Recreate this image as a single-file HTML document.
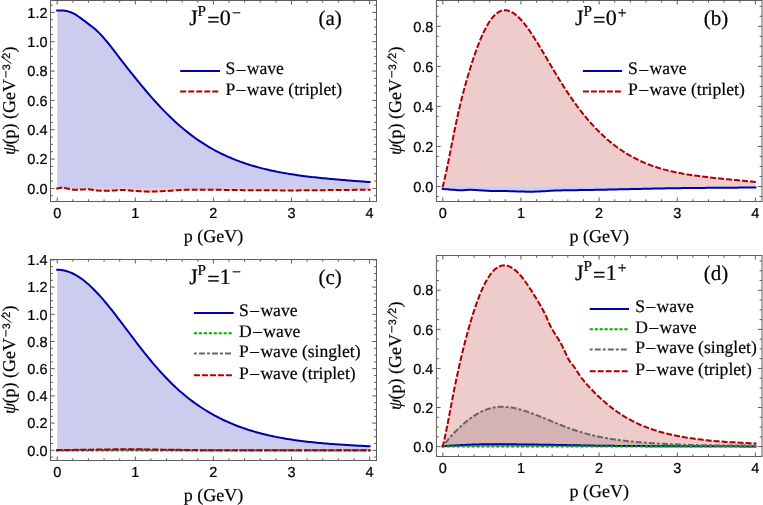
<!DOCTYPE html>
<html><head><meta charset="utf-8"><title>Wave functions</title>
<style>
html,body{margin:0;padding:0;background:#fff;}
svg{display:block;will-change:transform;}
text{fill:#000;text-rendering:geometricPrecision;}
.tk text{font-family:"Liberation Sans",sans-serif;font-size:14.5px;stroke:#000;stroke-width:0.22px;}
.ax{font-family:"Liberation Serif",serif;font-size:18px;stroke:#000;stroke-width:0.2px;}
.sup{font-family:"Liberation Sans",sans-serif;font-size:10.8px;stroke:#000;stroke-width:0.2px;}
.lg{font-family:"Liberation Serif",serif;font-size:17.6px;stroke:#000;stroke-width:0.2px;}
.ti{font-family:"Liberation Serif",serif;font-size:22px;stroke:#000;stroke-width:0.2px;}
</style></head>
<body>
<svg width="763" height="505" viewBox="0 0 763 505">
<rect x="0" y="0" width="763" height="505" fill="#ffffff"/>
<!-- panel a -->
<g>
<path d="M57.20,10.50 L57.84,10.49 L58.74,10.48 L59.80,10.46 L60.91,10.46 L61.98,10.47 L62.90,10.50 L63.81,10.57 L64.63,10.67 L65.39,10.79 L66.13,10.93 L66.90,11.10 L67.88,11.34 L68.85,11.63 L69.82,11.94 L70.80,12.30 L71.59,12.61 L72.40,12.94 L73.20,13.29 L74.00,13.68 L74.80,14.10 L75.79,14.69 L76.78,15.33 L77.76,16.01 L78.75,16.70 L79.74,17.40 L80.72,18.12 L81.71,18.86 L82.70,19.60 L83.50,20.19 L84.30,20.79 L85.10,21.40 L85.91,22.00 L86.70,22.60 L87.68,23.35 L88.65,24.09 L89.62,24.84 L90.60,25.60 L91.40,26.21 L92.20,26.83 L93.00,27.45 L93.80,28.09 L94.60,28.75 L95.58,29.60 L96.55,30.49 L97.52,31.41 L98.50,32.36 L99.30,33.15 L100.12,33.98 L100.93,34.82 L101.73,35.67 L102.50,36.51 L103.41,37.53 L104.27,38.54 L105.13,39.54 L106.00,40.56 L106.98,41.73 L108.02,43.00 L108.95,44.16 L109.60,44.98 L111.87,47.84 L113.82,50.36 L115.78,52.91 L117.73,55.48 L119.68,58.05 L121.63,60.61 L123.59,63.14 L125.54,65.65 L127.49,68.14 L129.44,70.60 L131.39,73.05 L133.35,75.49 L135.30,77.91 L137.25,80.32 L139.20,82.71 L141.16,85.08 L143.11,87.43 L145.06,89.76 L147.01,92.06 L148.97,94.33 L150.92,96.58 L152.87,98.79 L154.82,100.97 L156.78,103.13 L158.73,105.25 L160.68,107.33 L162.63,109.38 L164.59,111.40 L166.54,113.38 L168.49,115.32 L170.44,117.23 L172.40,119.09 L174.35,120.92 L176.30,122.71 L178.25,124.46 L180.21,126.17 L182.16,127.84 L184.11,129.48 L186.06,131.07 L188.02,132.62 L189.97,134.14 L191.92,135.62 L193.88,137.06 L195.83,138.46 L197.78,139.83 L199.73,141.16 L201.69,142.45 L203.64,143.71 L205.59,144.94 L207.54,146.13 L209.50,147.28 L211.45,148.41 L213.40,149.50 L215.35,150.56 L217.31,151.59 L219.26,152.59 L221.21,153.56 L223.16,154.51 L225.12,155.42 L227.07,156.31 L229.02,157.17 L230.97,158.01 L232.93,158.82 L234.88,159.60 L236.83,160.36 L238.78,161.10 L240.74,161.82 L242.69,162.52 L244.64,163.19 L246.59,163.84 L248.55,164.47 L250.50,165.09 L252.45,165.68 L254.40,166.25 L256.36,166.81 L258.31,167.35 L260.26,167.87 L262.21,168.38 L264.17,168.86 L266.12,169.34 L268.07,169.80 L270.02,170.24 L271.97,170.67 L273.93,171.08 L275.88,171.48 L277.83,171.87 L279.78,172.25 L281.74,172.61 L283.69,172.96 L285.64,173.30 L287.60,173.63 L289.55,173.95 L291.50,174.26 L293.45,174.56 L295.41,174.86 L297.36,175.14 L299.31,175.41 L301.26,175.68 L303.22,175.94 L305.17,176.19 L307.12,176.43 L309.07,176.67 L311.02,176.90 L312.98,177.13 L314.93,177.35 L316.88,177.56 L318.83,177.77 L320.79,177.97 L322.74,178.17 L324.69,178.36 L326.64,178.55 L328.60,178.74 L330.55,178.92 L332.50,179.10 L334.45,179.27 L336.41,179.44 L338.36,179.61 L340.31,179.78 L342.26,179.94 L344.22,180.10 L346.17,180.26 L348.12,180.42 L350.07,180.57 L352.03,180.73 L353.98,180.88 L355.93,181.03 L357.88,181.18 L359.84,181.33 L361.79,181.47 L363.74,181.62 L365.69,181.77 L367.65,181.91 L369.60,182.06 L369.60,188.40 L57.20,188.40 Z" fill="#0000ab" fill-opacity="0.2" stroke="none"/>
<path d="M57.20,188.45 L58.64,188.16 L60.67,187.79 L62.60,187.60 L64.08,187.76 L65.44,188.11 L67.00,188.50 L68.35,188.81 L69.80,189.17 L71.37,189.49 L73.10,189.70 L74.65,189.75 L76.35,189.72 L78.11,189.65 L79.85,189.56 L81.50,189.50 L83.43,189.42 L85.29,189.33 L87.08,189.27 L88.80,189.30 L90.40,189.45 L91.89,189.70 L93.39,189.97 L95.00,190.20 L96.69,190.39 L98.43,190.57 L100.30,190.72 L102.40,190.80 L103.98,190.81 L105.71,190.78 L107.53,190.72 L109.37,190.66 L111.18,190.58 L112.90,190.50 L114.82,190.38 L116.63,190.21 L118.43,190.05 L120.30,189.93 L122.30,189.90 L124.09,189.96 L125.97,190.09 L127.90,190.26 L129.88,190.45 L131.88,190.64 L133.90,190.80 L135.67,190.93 L137.49,191.07 L139.35,191.20 L141.20,191.33 L143.03,191.45 L144.81,191.54 L146.50,191.60 L148.34,191.63 L150.05,191.62 L151.70,191.59 L153.35,191.53 L155.06,191.47 L156.90,191.40 L158.57,191.34 L160.28,191.27 L162.04,191.19 L163.84,191.10 L165.68,191.00 L167.57,190.90 L169.50,190.80 L171.17,190.70 L172.78,190.58 L174.40,190.45 L176.06,190.33 L177.83,190.20 L179.74,190.08 L181.85,189.98 L184.20,189.90 L185.78,189.86 L187.44,189.82 L189.19,189.79 L191.00,189.77 L192.88,189.74 L194.82,189.73 L196.81,189.71 L198.84,189.70 L200.90,189.69 L203.00,189.69 L205.12,189.69 L207.26,189.69 L209.40,189.70 L211.13,189.71 L212.83,189.72 L214.53,189.74 L216.22,189.76 L217.91,189.78 L219.63,189.81 L221.37,189.84 L223.15,189.87 L224.98,189.90 L226.87,189.93 L228.82,189.96 L230.86,189.99 L232.98,190.02 L235.21,190.05 L237.54,190.08 L240.00,190.10 L241.59,190.11 L243.24,190.13 L244.95,190.14 L246.72,190.16 L248.55,190.17 L250.42,190.19 L252.33,190.20 L254.28,190.22 L256.26,190.23 L258.27,190.25 L260.30,190.26 L262.35,190.28 L264.41,190.29 L266.48,190.31 L268.55,190.32 L270.61,190.33 L272.67,190.34 L274.72,190.36 L276.74,190.37 L278.75,190.37 L280.72,190.38 L282.66,190.39 L284.57,190.39 L286.43,190.40 L288.24,190.40 L290.00,190.40 L292.12,190.40 L294.20,190.40 L296.24,190.39 L298.25,190.38 L300.22,190.37 L302.17,190.36 L304.09,190.35 L305.98,190.33 L307.86,190.32 L309.72,190.30 L311.57,190.29 L313.40,190.27 L315.23,190.25 L317.06,190.23 L318.88,190.21 L320.71,190.19 L322.55,190.17 L324.39,190.15 L326.24,190.13 L328.11,190.12 L330.00,190.10 L332.04,190.08 L334.16,190.06 L336.35,190.04 L338.59,190.02 L340.88,190.00 L343.18,189.97 L345.50,189.95 L347.81,189.93 L350.10,189.90 L352.35,189.88 L354.55,189.86 L356.69,189.84 L358.75,189.81 L360.72,189.79 L362.57,189.77 L364.31,189.76 L365.90,189.74 L367.34,189.72 L368.61,189.71 L369.70,189.70 L369.70,188.40 L57.20,188.40 Z" fill="#ab0000" fill-opacity="0.2" stroke="none"/>
<path d="M56.20,10.50 L57.20,10.50 L57.84,10.49 L58.74,10.48 L59.80,10.46 L60.91,10.46 L61.98,10.47 L62.90,10.50 L63.81,10.57 L64.63,10.67 L65.39,10.79 L66.13,10.93 L66.90,11.10 L67.88,11.34 L68.85,11.63 L69.82,11.94 L70.80,12.30 L71.59,12.61 L72.40,12.94 L73.20,13.29 L74.00,13.68 L74.80,14.10 L75.79,14.69 L76.78,15.33 L77.76,16.01 L78.75,16.70 L79.74,17.40 L80.72,18.12 L81.71,18.86 L82.70,19.60 L83.50,20.19 L84.30,20.79 L85.10,21.40 L85.91,22.00 L86.70,22.60 L87.68,23.35 L88.65,24.09 L89.62,24.84 L90.60,25.60 L91.40,26.21 L92.20,26.83 L93.00,27.45 L93.80,28.09 L94.60,28.75 L95.58,29.60 L96.55,30.49 L97.52,31.41 L98.50,32.36 L99.30,33.15 L100.12,33.98 L100.93,34.82 L101.73,35.67 L102.50,36.51 L103.41,37.53 L104.27,38.54 L105.13,39.54 L106.00,40.56 L106.98,41.73 L108.02,43.00 L108.95,44.16 L109.60,44.98 L111.87,47.84 L113.82,50.36 L115.78,52.91 L117.73,55.48 L119.68,58.05 L121.63,60.61 L123.59,63.14 L125.54,65.65 L127.49,68.14 L129.44,70.60 L131.39,73.05 L133.35,75.49 L135.30,77.91 L137.25,80.32 L139.20,82.71 L141.16,85.08 L143.11,87.43 L145.06,89.76 L147.01,92.06 L148.97,94.33 L150.92,96.58 L152.87,98.79 L154.82,100.97 L156.78,103.13 L158.73,105.25 L160.68,107.33 L162.63,109.38 L164.59,111.40 L166.54,113.38 L168.49,115.32 L170.44,117.23 L172.40,119.09 L174.35,120.92 L176.30,122.71 L178.25,124.46 L180.21,126.17 L182.16,127.84 L184.11,129.48 L186.06,131.07 L188.02,132.62 L189.97,134.14 L191.92,135.62 L193.88,137.06 L195.83,138.46 L197.78,139.83 L199.73,141.16 L201.69,142.45 L203.64,143.71 L205.59,144.94 L207.54,146.13 L209.50,147.28 L211.45,148.41 L213.40,149.50 L215.35,150.56 L217.31,151.59 L219.26,152.59 L221.21,153.56 L223.16,154.51 L225.12,155.42 L227.07,156.31 L229.02,157.17 L230.97,158.01 L232.93,158.82 L234.88,159.60 L236.83,160.36 L238.78,161.10 L240.74,161.82 L242.69,162.52 L244.64,163.19 L246.59,163.84 L248.55,164.47 L250.50,165.09 L252.45,165.68 L254.40,166.25 L256.36,166.81 L258.31,167.35 L260.26,167.87 L262.21,168.38 L264.17,168.86 L266.12,169.34 L268.07,169.80 L270.02,170.24 L271.97,170.67 L273.93,171.08 L275.88,171.48 L277.83,171.87 L279.78,172.25 L281.74,172.61 L283.69,172.96 L285.64,173.30 L287.60,173.63 L289.55,173.95 L291.50,174.26 L293.45,174.56 L295.41,174.86 L297.36,175.14 L299.31,175.41 L301.26,175.68 L303.22,175.94 L305.17,176.19 L307.12,176.43 L309.07,176.67 L311.02,176.90 L312.98,177.13 L314.93,177.35 L316.88,177.56 L318.83,177.77 L320.79,177.97 L322.74,178.17 L324.69,178.36 L326.64,178.55 L328.60,178.74 L330.55,178.92 L332.50,179.10 L334.45,179.27 L336.41,179.44 L338.36,179.61 L340.31,179.78 L342.26,179.94 L344.22,180.10 L346.17,180.26 L348.12,180.42 L350.07,180.57 L352.03,180.73 L353.98,180.88 L355.93,181.03 L357.88,181.18 L359.84,181.33 L361.79,181.47 L363.74,181.62 L365.69,181.77 L367.65,181.91 L369.60,182.06 L370.60,182.06" fill="none" stroke="#0000ab" stroke-width="2" stroke-linejoin="round"/>
<path d="M56.20,188.45 L57.20,188.45 L58.64,188.16 L60.67,187.79 L62.60,187.60 L64.08,187.76 L65.44,188.11 L67.00,188.50 L68.35,188.81 L69.80,189.17 L71.37,189.49 L73.10,189.70 L74.65,189.75 L76.35,189.72 L78.11,189.65 L79.85,189.56 L81.50,189.50 L83.43,189.42 L85.29,189.33 L87.08,189.27 L88.80,189.30 L90.40,189.45 L91.89,189.70 L93.39,189.97 L95.00,190.20 L96.69,190.39 L98.43,190.57 L100.30,190.72 L102.40,190.80 L103.98,190.81 L105.71,190.78 L107.53,190.72 L109.37,190.66 L111.18,190.58 L112.90,190.50 L114.82,190.38 L116.63,190.21 L118.43,190.05 L120.30,189.93 L122.30,189.90 L124.09,189.96 L125.97,190.09 L127.90,190.26 L129.88,190.45 L131.88,190.64 L133.90,190.80 L135.67,190.93 L137.49,191.07 L139.35,191.20 L141.20,191.33 L143.03,191.45 L144.81,191.54 L146.50,191.60 L148.34,191.63 L150.05,191.62 L151.70,191.59 L153.35,191.53 L155.06,191.47 L156.90,191.40 L158.57,191.34 L160.28,191.27 L162.04,191.19 L163.84,191.10 L165.68,191.00 L167.57,190.90 L169.50,190.80 L171.17,190.70 L172.78,190.58 L174.40,190.45 L176.06,190.33 L177.83,190.20 L179.74,190.08 L181.85,189.98 L184.20,189.90 L185.78,189.86 L187.44,189.82 L189.19,189.79 L191.00,189.77 L192.88,189.74 L194.82,189.73 L196.81,189.71 L198.84,189.70 L200.90,189.69 L203.00,189.69 L205.12,189.69 L207.26,189.69 L209.40,189.70 L211.13,189.71 L212.83,189.72 L214.53,189.74 L216.22,189.76 L217.91,189.78 L219.63,189.81 L221.37,189.84 L223.15,189.87 L224.98,189.90 L226.87,189.93 L228.82,189.96 L230.86,189.99 L232.98,190.02 L235.21,190.05 L237.54,190.08 L240.00,190.10 L241.59,190.11 L243.24,190.13 L244.95,190.14 L246.72,190.16 L248.55,190.17 L250.42,190.19 L252.33,190.20 L254.28,190.22 L256.26,190.23 L258.27,190.25 L260.30,190.26 L262.35,190.28 L264.41,190.29 L266.48,190.31 L268.55,190.32 L270.61,190.33 L272.67,190.34 L274.72,190.36 L276.74,190.37 L278.75,190.37 L280.72,190.38 L282.66,190.39 L284.57,190.39 L286.43,190.40 L288.24,190.40 L290.00,190.40 L292.12,190.40 L294.20,190.40 L296.24,190.39 L298.25,190.38 L300.22,190.37 L302.17,190.36 L304.09,190.35 L305.98,190.33 L307.86,190.32 L309.72,190.30 L311.57,190.29 L313.40,190.27 L315.23,190.25 L317.06,190.23 L318.88,190.21 L320.71,190.19 L322.55,190.17 L324.39,190.15 L326.24,190.13 L328.11,190.12 L330.00,190.10 L332.04,190.08 L334.16,190.06 L336.35,190.04 L338.59,190.02 L340.88,190.00 L343.18,189.97 L345.50,189.95 L347.81,189.93 L350.10,189.90 L352.35,189.88 L354.55,189.86 L356.69,189.84 L358.75,189.81 L360.72,189.79 L362.57,189.77 L364.31,189.76 L365.90,189.74 L367.34,189.72 L368.61,189.71 L369.70,189.70 L370.70,189.70" fill="none" stroke="#ab0000" stroke-width="2" stroke-dasharray="6 2" stroke-linejoin="round"/>
<rect x="50.5" y="0.5" width="326" height="201" fill="none" stroke="#5c5c5c" stroke-width="1"/>
<path d="M57.20,201.5 v-4.0 M57.20,0.5 v4.0 M72.82,201.5 v-2.2 M72.82,0.5 v2.2 M88.44,201.5 v-2.2 M88.44,0.5 v2.2 M104.06,201.5 v-2.2 M104.06,0.5 v2.2 M119.68,201.5 v-2.2 M119.68,0.5 v2.2 M135.30,201.5 v-4.0 M135.30,0.5 v4.0 M150.92,201.5 v-2.2 M150.92,0.5 v2.2 M166.54,201.5 v-2.2 M166.54,0.5 v2.2 M182.16,201.5 v-2.2 M182.16,0.5 v2.2 M197.78,201.5 v-2.2 M197.78,0.5 v2.2 M213.40,201.5 v-4.0 M213.40,0.5 v4.0 M229.02,201.5 v-2.2 M229.02,0.5 v2.2 M244.64,201.5 v-2.2 M244.64,0.5 v2.2 M260.26,201.5 v-2.2 M260.26,0.5 v2.2 M275.88,201.5 v-2.2 M275.88,0.5 v2.2 M291.50,201.5 v-4.0 M291.50,0.5 v4.0 M307.12,201.5 v-2.2 M307.12,0.5 v2.2 M322.74,201.5 v-2.2 M322.74,0.5 v2.2 M338.36,201.5 v-2.2 M338.36,0.5 v2.2 M353.98,201.5 v-2.2 M353.98,0.5 v2.2 M369.60,201.5 v-4.0 M369.60,0.5 v4.0 M50.5,195.73 h2.4 M376.5,195.73 h-2.4 M50.5,188.40 h4.2 M376.5,188.40 h-4.2 M50.5,181.07 h2.4 M376.5,181.07 h-2.4 M50.5,173.73 h2.4 M376.5,173.73 h-2.4 M50.5,166.40 h2.4 M376.5,166.40 h-2.4 M50.5,159.07 h4.2 M376.5,159.07 h-4.2 M50.5,151.73 h2.4 M376.5,151.73 h-2.4 M50.5,144.40 h2.4 M376.5,144.40 h-2.4 M50.5,137.07 h2.4 M376.5,137.07 h-2.4 M50.5,129.73 h4.2 M376.5,129.73 h-4.2 M50.5,122.40 h2.4 M376.5,122.40 h-2.4 M50.5,115.07 h2.4 M376.5,115.07 h-2.4 M50.5,107.73 h2.4 M376.5,107.73 h-2.4 M50.5,100.40 h4.2 M376.5,100.40 h-4.2 M50.5,93.06 h2.4 M376.5,93.06 h-2.4 M50.5,85.73 h2.4 M376.5,85.73 h-2.4 M50.5,78.40 h2.4 M376.5,78.40 h-2.4 M50.5,71.06 h4.2 M376.5,71.06 h-4.2 M50.5,63.73 h2.4 M376.5,63.73 h-2.4 M50.5,56.40 h2.4 M376.5,56.40 h-2.4 M50.5,49.06 h2.4 M376.5,49.06 h-2.4 M50.5,41.73 h4.2 M376.5,41.73 h-4.2 M50.5,34.40 h2.4 M376.5,34.40 h-2.4 M50.5,27.06 h2.4 M376.5,27.06 h-2.4 M50.5,19.73 h2.4 M376.5,19.73 h-2.4 M50.5,12.40 h4.2 M376.5,12.40 h-4.2 M50.5,5.06 h2.4 M376.5,5.06 h-2.4" stroke="#5c5c5c" stroke-width="1" fill="none"/>
<g class="tk">
<text x="57.20" y="218.20" text-anchor="middle">0</text>
<text x="135.30" y="218.20" text-anchor="middle">1</text>
<text x="213.40" y="218.20" text-anchor="middle">2</text>
<text x="291.50" y="218.20" text-anchor="middle">3</text>
<text x="369.60" y="218.20" text-anchor="middle">4</text>
<text x="47.50" y="193.60" text-anchor="end">0.0</text>
<text x="47.50" y="164.27" text-anchor="end">0.2</text>
<text x="47.50" y="134.93" text-anchor="end">0.4</text>
<text x="47.50" y="105.60" text-anchor="end">0.6</text>
<text x="47.50" y="76.26" text-anchor="end">0.8</text>
<text x="47.50" y="46.93" text-anchor="end">1.0</text>
<text x="47.50" y="17.60" text-anchor="end">1.2</text>
</g>
<text class="ax" x="213.50" y="242.20" text-anchor="middle">p (GeV)</text>
<g transform="translate(15.00,154.90) rotate(-90)"><text class="ax" x="0" y="0" word-spacing="0.1"><tspan font-style="italic">ψ</tspan><tspan dx="-0.8">(p) (GeV</tspan></text><path d="M77.2,-9.1 H84.0" stroke="#000" stroke-width="1.0" fill="none"/><text class="sup" x="84.6" y="-5.4">3</text><path d="M91.3,-3.6 L98.5,-14.0" stroke="#000" stroke-width="0.95" fill="none"/><text class="sup" x="96.2" y="-5.4">2</text><text class="ax" x="102.3" y="0">)</text></g>
<text class="ti" x="189.20" y="24.80">J<tspan font-size="15.2" dy="-8.8" dx="-0.2">P</tspan><tspan dy="10.6" dx="1.2">=</tspan><tspan dx="0.2" dy="-1.8">0</tspan><tspan font-size="15.8" dy="-6.9" dx="1.1">−</tspan></text>
<text class="ti" style="font-size:21px" x="330.20" y="24.80" text-anchor="middle">(a)</text>
<path d="M180.2,71.1 h39.80" stroke="#0000ab" stroke-width="2" fill="none"/>
<text class="lg" x="225.40" y="74.40">S<tspan font-size="19.5" dx="0.3" dy="2.2">−</tspan><tspan dx="0.3" dy="-2.2">wave</tspan></text>
<path d="M180.2,91.5 h38.00" stroke="#ab0000" stroke-width="2" stroke-dasharray="6 2" fill="none"/>
<text class="lg" x="225.40" y="94.90">P<tspan font-size="19.5" dx="0.3" dy="2.2">−</tspan><tspan dx="0.3" dy="-2.2">wave (triplet)</tspan></text>
</g>
<!-- panel b -->
<g>
<path d="M442.80,189.00 L443.97,189.09 L445.53,189.22 L447.40,189.37 L449.47,189.54 L451.66,189.71 L453.87,189.87 L456.01,190.02 L457.98,190.13 L459.70,190.20 L461.79,190.21 L463.54,190.13 L465.12,190.01 L466.73,189.88 L468.56,189.80 L470.80,189.80 L472.39,189.85 L474.12,189.94 L475.97,190.05 L477.91,190.18 L479.91,190.31 L481.94,190.45 L483.97,190.59 L485.98,190.71 L487.93,190.82 L489.80,190.90 L491.78,190.96 L493.68,191.00 L495.54,191.02 L497.38,191.03 L499.23,191.03 L501.10,191.04 L503.04,191.05 L505.06,191.07 L507.20,191.10 L508.90,191.14 L510.68,191.19 L512.52,191.25 L514.42,191.31 L516.35,191.38 L518.30,191.45 L520.25,191.51 L522.18,191.57 L524.07,191.62 L525.92,191.66 L527.70,191.69 L529.40,191.70 L531.59,191.69 L533.76,191.65 L535.88,191.59 L537.94,191.52 L539.93,191.43 L541.82,191.34 L543.61,191.26 L545.27,191.17 L546.80,191.10 L548.48,190.98 L549.04,190.87 L549.64,190.75 L551.42,190.63 L555.50,190.50 L556.72,190.47 L558.02,190.44 L559.40,190.41 L560.87,190.39 L562.42,190.36 L564.04,190.33 L565.73,190.30 L567.50,190.27 L569.33,190.25 L571.23,190.22 L573.19,190.19 L575.21,190.16 L577.28,190.13 L579.41,190.09 L581.59,190.06 L583.81,190.03 L586.08,189.99 L588.39,189.95 L590.75,189.92 L593.14,189.88 L595.56,189.83 L598.01,189.79 L600.49,189.75 L603.00,189.70 L604.65,189.67 L606.33,189.63 L608.05,189.60 L609.79,189.56 L611.57,189.53 L613.37,189.49 L615.19,189.45 L617.05,189.41 L618.92,189.37 L620.82,189.32 L622.75,189.28 L624.69,189.24 L626.65,189.19 L628.63,189.15 L630.63,189.10 L632.64,189.06 L634.67,189.01 L636.71,188.97 L638.76,188.92 L640.82,188.88 L642.89,188.83 L644.98,188.78 L647.07,188.74 L649.16,188.70 L651.26,188.65 L653.36,188.61 L655.47,188.57 L657.58,188.52 L659.68,188.48 L661.79,188.44 L663.89,188.41 L665.99,188.37 L668.09,188.33 L670.18,188.30 L672.26,188.26 L674.34,188.23 L676.40,188.20 L678.33,188.17 L680.32,188.15 L682.35,188.12 L684.43,188.09 L686.55,188.07 L688.70,188.04 L690.89,188.02 L693.11,188.00 L695.35,187.97 L697.61,187.95 L699.89,187.93 L702.18,187.91 L704.48,187.89 L706.78,187.87 L709.09,187.85 L711.39,187.83 L713.68,187.81 L715.97,187.79 L718.24,187.77 L720.49,187.76 L722.71,187.74 L724.92,187.72 L727.08,187.71 L729.22,187.69 L731.32,187.68 L733.37,187.66 L735.37,187.65 L737.33,187.63 L739.23,187.62 L741.07,187.61 L742.85,187.59 L744.57,187.58 L746.21,187.57 L747.78,187.56 L749.27,187.55 L750.67,187.54 L752.00,187.53 L753.23,187.52 L754.36,187.51 L755.40,187.50 L755.40,186.50 L442.80,186.50 Z" fill="#0000ab" fill-opacity="0.2" stroke="none"/>
<path d="M442.80,186.54 L444.75,178.41 L446.71,169.50 L448.66,160.02 L450.62,150.22 L452.57,140.33 L454.52,130.56 L456.48,121.15 L458.43,112.23 L460.38,103.88 L462.34,96.04 L464.29,88.65 L466.25,81.64 L468.20,74.95 L470.15,68.54 L472.11,62.39 L474.06,56.51 L476.01,50.92 L477.97,45.64 L479.92,40.70 L481.88,36.09 L483.83,31.84 L485.78,27.96 L487.74,24.46 L489.69,21.34 L491.64,18.61 L493.60,16.27 L495.55,14.32 L497.50,12.77 L499.46,11.60 L501.41,10.80 L503.37,10.35 L505.32,10.24 L507.27,10.46 L509.23,10.99 L511.18,11.81 L513.13,12.91 L515.09,14.27 L517.04,15.88 L519.00,17.71 L520.95,19.75 L522.90,21.98 L524.86,24.39 L526.81,26.95 L528.76,29.65 L530.72,32.48 L532.67,35.42 L534.63,38.45 L536.58,41.56 L538.53,44.74 L540.49,47.97 L542.44,51.24 L544.39,54.54 L546.35,57.86 L548.30,61.18 L550.26,64.50 L552.21,67.80 L554.16,71.09 L556.12,74.34 L558.07,77.56 L560.02,80.74 L561.98,83.86 L563.93,86.94 L565.89,89.96 L567.84,92.92 L569.79,95.82 L571.75,98.66 L573.70,101.44 L575.65,104.15 L577.61,106.80 L579.56,109.38 L581.52,111.90 L583.47,114.36 L585.42,116.75 L587.38,119.08 L589.33,121.35 L591.29,123.55 L593.24,125.70 L595.19,127.79 L597.15,129.82 L599.10,131.79 L601.05,133.70 L603.01,135.55 L604.96,137.34 L606.91,139.08 L608.87,140.76 L610.82,142.38 L612.78,143.95 L614.73,145.47 L616.68,146.94 L618.64,148.36 L620.59,149.72 L622.55,151.04 L624.50,152.31 L626.45,153.53 L628.41,154.71 L630.36,155.84 L632.31,156.93 L634.27,157.97 L636.22,158.98 L638.17,159.95 L640.13,160.87 L642.08,161.76 L644.04,162.61 L645.99,163.43 L647.94,164.21 L649.90,164.96 L651.85,165.67 L653.81,166.36 L655.76,167.01 L657.71,167.64 L659.67,168.24 L661.62,168.81 L663.57,169.36 L665.53,169.88 L667.48,170.38 L669.44,170.86 L671.39,171.32 L673.34,171.76 L675.30,172.18 L677.25,172.58 L679.20,172.97 L681.16,173.34 L683.11,173.70 L685.07,174.04 L687.02,174.37 L688.97,174.68 L690.93,174.99 L692.88,175.28 L694.83,175.56 L696.79,175.84 L698.74,176.10 L700.70,176.36 L702.65,176.60 L704.60,176.84 L706.56,177.08 L708.51,177.31 L710.46,177.53 L712.42,177.74 L714.37,177.95 L716.33,178.16 L718.28,178.36 L720.23,178.56 L722.19,178.76 L724.14,178.95 L726.09,179.14 L728.05,179.33 L730.00,179.52 L731.96,179.70 L733.91,179.89 L735.86,180.07 L737.82,180.25 L739.77,180.43 L741.72,180.61 L743.68,180.80 L745.63,180.98 L747.59,181.16 L749.54,181.34 L751.49,181.53 L753.45,181.71 L755.40,181.90 L755.40,186.50 L442.80,186.50 Z" fill="#ab0000" fill-opacity="0.2" stroke="none"/>
<path d="M441.80,189.00 L442.80,189.00 L443.97,189.09 L445.53,189.22 L447.40,189.37 L449.47,189.54 L451.66,189.71 L453.87,189.87 L456.01,190.02 L457.98,190.13 L459.70,190.20 L461.79,190.21 L463.54,190.13 L465.12,190.01 L466.73,189.88 L468.56,189.80 L470.80,189.80 L472.39,189.85 L474.12,189.94 L475.97,190.05 L477.91,190.18 L479.91,190.31 L481.94,190.45 L483.97,190.59 L485.98,190.71 L487.93,190.82 L489.80,190.90 L491.78,190.96 L493.68,191.00 L495.54,191.02 L497.38,191.03 L499.23,191.03 L501.10,191.04 L503.04,191.05 L505.06,191.07 L507.20,191.10 L508.90,191.14 L510.68,191.19 L512.52,191.25 L514.42,191.31 L516.35,191.38 L518.30,191.45 L520.25,191.51 L522.18,191.57 L524.07,191.62 L525.92,191.66 L527.70,191.69 L529.40,191.70 L531.59,191.69 L533.76,191.65 L535.88,191.59 L537.94,191.52 L539.93,191.43 L541.82,191.34 L543.61,191.26 L545.27,191.17 L546.80,191.10 L548.48,190.98 L549.04,190.87 L549.64,190.75 L551.42,190.63 L555.50,190.50 L556.72,190.47 L558.02,190.44 L559.40,190.41 L560.87,190.39 L562.42,190.36 L564.04,190.33 L565.73,190.30 L567.50,190.27 L569.33,190.25 L571.23,190.22 L573.19,190.19 L575.21,190.16 L577.28,190.13 L579.41,190.09 L581.59,190.06 L583.81,190.03 L586.08,189.99 L588.39,189.95 L590.75,189.92 L593.14,189.88 L595.56,189.83 L598.01,189.79 L600.49,189.75 L603.00,189.70 L604.65,189.67 L606.33,189.63 L608.05,189.60 L609.79,189.56 L611.57,189.53 L613.37,189.49 L615.19,189.45 L617.05,189.41 L618.92,189.37 L620.82,189.32 L622.75,189.28 L624.69,189.24 L626.65,189.19 L628.63,189.15 L630.63,189.10 L632.64,189.06 L634.67,189.01 L636.71,188.97 L638.76,188.92 L640.82,188.88 L642.89,188.83 L644.98,188.78 L647.07,188.74 L649.16,188.70 L651.26,188.65 L653.36,188.61 L655.47,188.57 L657.58,188.52 L659.68,188.48 L661.79,188.44 L663.89,188.41 L665.99,188.37 L668.09,188.33 L670.18,188.30 L672.26,188.26 L674.34,188.23 L676.40,188.20 L678.33,188.17 L680.32,188.15 L682.35,188.12 L684.43,188.09 L686.55,188.07 L688.70,188.04 L690.89,188.02 L693.11,188.00 L695.35,187.97 L697.61,187.95 L699.89,187.93 L702.18,187.91 L704.48,187.89 L706.78,187.87 L709.09,187.85 L711.39,187.83 L713.68,187.81 L715.97,187.79 L718.24,187.77 L720.49,187.76 L722.71,187.74 L724.92,187.72 L727.08,187.71 L729.22,187.69 L731.32,187.68 L733.37,187.66 L735.37,187.65 L737.33,187.63 L739.23,187.62 L741.07,187.61 L742.85,187.59 L744.57,187.58 L746.21,187.57 L747.78,187.56 L749.27,187.55 L750.67,187.54 L752.00,187.53 L753.23,187.52 L754.36,187.51 L755.40,187.50 L756.40,187.50" fill="none" stroke="#0000ab" stroke-width="2" stroke-linejoin="round"/>
<path d="M441.80,186.54 L442.80,186.54 L444.75,178.41 L446.71,169.50 L448.66,160.02 L450.62,150.22 L452.57,140.33 L454.52,130.56 L456.48,121.15 L458.43,112.23 L460.38,103.88 L462.34,96.04 L464.29,88.65 L466.25,81.64 L468.20,74.95 L470.15,68.54 L472.11,62.39 L474.06,56.51 L476.01,50.92 L477.97,45.64 L479.92,40.70 L481.88,36.09 L483.83,31.84 L485.78,27.96 L487.74,24.46 L489.69,21.34 L491.64,18.61 L493.60,16.27 L495.55,14.32 L497.50,12.77 L499.46,11.60 L501.41,10.80 L503.37,10.35 L505.32,10.24 L507.27,10.46 L509.23,10.99 L511.18,11.81 L513.13,12.91 L515.09,14.27 L517.04,15.88 L519.00,17.71 L520.95,19.75 L522.90,21.98 L524.86,24.39 L526.81,26.95 L528.76,29.65 L530.72,32.48 L532.67,35.42 L534.63,38.45 L536.58,41.56 L538.53,44.74 L540.49,47.97 L542.44,51.24 L544.39,54.54 L546.35,57.86 L548.30,61.18 L550.26,64.50 L552.21,67.80 L554.16,71.09 L556.12,74.34 L558.07,77.56 L560.02,80.74 L561.98,83.86 L563.93,86.94 L565.89,89.96 L567.84,92.92 L569.79,95.82 L571.75,98.66 L573.70,101.44 L575.65,104.15 L577.61,106.80 L579.56,109.38 L581.52,111.90 L583.47,114.36 L585.42,116.75 L587.38,119.08 L589.33,121.35 L591.29,123.55 L593.24,125.70 L595.19,127.79 L597.15,129.82 L599.10,131.79 L601.05,133.70 L603.01,135.55 L604.96,137.34 L606.91,139.08 L608.87,140.76 L610.82,142.38 L612.78,143.95 L614.73,145.47 L616.68,146.94 L618.64,148.36 L620.59,149.72 L622.55,151.04 L624.50,152.31 L626.45,153.53 L628.41,154.71 L630.36,155.84 L632.31,156.93 L634.27,157.97 L636.22,158.98 L638.17,159.95 L640.13,160.87 L642.08,161.76 L644.04,162.61 L645.99,163.43 L647.94,164.21 L649.90,164.96 L651.85,165.67 L653.81,166.36 L655.76,167.01 L657.71,167.64 L659.67,168.24 L661.62,168.81 L663.57,169.36 L665.53,169.88 L667.48,170.38 L669.44,170.86 L671.39,171.32 L673.34,171.76 L675.30,172.18 L677.25,172.58 L679.20,172.97 L681.16,173.34 L683.11,173.70 L685.07,174.04 L687.02,174.37 L688.97,174.68 L690.93,174.99 L692.88,175.28 L694.83,175.56 L696.79,175.84 L698.74,176.10 L700.70,176.36 L702.65,176.60 L704.60,176.84 L706.56,177.08 L708.51,177.31 L710.46,177.53 L712.42,177.74 L714.37,177.95 L716.33,178.16 L718.28,178.36 L720.23,178.56 L722.19,178.76 L724.14,178.95 L726.09,179.14 L728.05,179.33 L730.00,179.52 L731.96,179.70 L733.91,179.89 L735.86,180.07 L737.82,180.25 L739.77,180.43 L741.72,180.61 L743.68,180.80 L745.63,180.98 L747.59,181.16 L749.54,181.34 L751.49,181.53 L753.45,181.71 L755.40,181.90 L756.40,181.90" fill="none" stroke="#ab0000" stroke-width="2" stroke-dasharray="6 2" stroke-linejoin="round"/>
<rect x="436.4" y="0.5" width="325.6" height="201" fill="none" stroke="#5c5c5c" stroke-width="1"/>
<path d="M442.80,201.5 v-4.0 M442.80,0.5 v4.0 M458.43,201.5 v-2.2 M458.43,0.5 v2.2 M474.06,201.5 v-2.2 M474.06,0.5 v2.2 M489.69,201.5 v-2.2 M489.69,0.5 v2.2 M505.32,201.5 v-2.2 M505.32,0.5 v2.2 M520.95,201.5 v-4.0 M520.95,0.5 v4.0 M536.58,201.5 v-2.2 M536.58,0.5 v2.2 M552.21,201.5 v-2.2 M552.21,0.5 v2.2 M567.84,201.5 v-2.2 M567.84,0.5 v2.2 M583.47,201.5 v-2.2 M583.47,0.5 v2.2 M599.10,201.5 v-4.0 M599.10,0.5 v4.0 M614.73,201.5 v-2.2 M614.73,0.5 v2.2 M630.36,201.5 v-2.2 M630.36,0.5 v2.2 M645.99,201.5 v-2.2 M645.99,0.5 v2.2 M661.62,201.5 v-2.2 M661.62,0.5 v2.2 M677.25,201.5 v-4.0 M677.25,0.5 v4.0 M692.88,201.5 v-2.2 M692.88,0.5 v2.2 M708.51,201.5 v-2.2 M708.51,0.5 v2.2 M724.14,201.5 v-2.2 M724.14,0.5 v2.2 M739.77,201.5 v-2.2 M739.77,0.5 v2.2 M755.40,201.5 v-4.0 M755.40,0.5 v4.0 M436.4,196.51 h2.4 M762.0,196.51 h-2.4 M436.4,186.50 h4.2 M762.0,186.50 h-4.2 M436.4,176.49 h2.4 M762.0,176.49 h-2.4 M436.4,166.47 h2.4 M762.0,166.47 h-2.4 M436.4,156.46 h2.4 M762.0,156.46 h-2.4 M436.4,146.45 h4.2 M762.0,146.45 h-4.2 M436.4,136.44 h2.4 M762.0,136.44 h-2.4 M436.4,126.43 h2.4 M762.0,126.43 h-2.4 M436.4,116.41 h2.4 M762.0,116.41 h-2.4 M436.4,106.40 h4.2 M762.0,106.40 h-4.2 M436.4,96.39 h2.4 M762.0,96.39 h-2.4 M436.4,86.38 h2.4 M762.0,86.38 h-2.4 M436.4,76.36 h2.4 M762.0,76.36 h-2.4 M436.4,66.35 h4.2 M762.0,66.35 h-4.2 M436.4,56.34 h2.4 M762.0,56.34 h-2.4 M436.4,46.32 h2.4 M762.0,46.32 h-2.4 M436.4,36.31 h2.4 M762.0,36.31 h-2.4 M436.4,26.30 h4.2 M762.0,26.30 h-4.2 M436.4,16.29 h2.4 M762.0,16.29 h-2.4 M436.4,6.27 h2.4 M762.0,6.27 h-2.4" stroke="#5c5c5c" stroke-width="1" fill="none"/>
<g class="tk">
<text x="442.80" y="218.20" text-anchor="middle">0</text>
<text x="520.95" y="218.20" text-anchor="middle">1</text>
<text x="599.10" y="218.20" text-anchor="middle">2</text>
<text x="677.25" y="218.20" text-anchor="middle">3</text>
<text x="755.40" y="218.20" text-anchor="middle">4</text>
<text x="433.40" y="191.70" text-anchor="end">0.0</text>
<text x="433.40" y="151.65" text-anchor="end">0.2</text>
<text x="433.40" y="111.60" text-anchor="end">0.4</text>
<text x="433.40" y="71.55" text-anchor="end">0.6</text>
<text x="433.40" y="31.50" text-anchor="end">0.8</text>
</g>
<text class="ax" x="599.20" y="242.20" text-anchor="middle">p (GeV)</text>
<g transform="translate(400.90,154.90) rotate(-90)"><text class="ax" x="0" y="0" word-spacing="0.1"><tspan font-style="italic">ψ</tspan><tspan dx="-0.8">(p) (GeV</tspan></text><path d="M77.2,-9.1 H84.0" stroke="#000" stroke-width="1.0" fill="none"/><text class="sup" x="84.6" y="-5.4">3</text><path d="M91.3,-3.6 L98.5,-14.0" stroke="#000" stroke-width="0.95" fill="none"/><text class="sup" x="96.2" y="-5.4">2</text><text class="ax" x="102.3" y="0">)</text></g>
<text class="ti" x="575.10" y="24.80">J<tspan font-size="15.2" dy="-8.8" dx="-0.2">P</tspan><tspan dy="10.6" dx="1.2">=</tspan><tspan dx="0.2" dy="-1.8">0</tspan><tspan font-size="15.8" dy="-6.9" dx="1.1">+</tspan></text>
<text class="ti" style="font-size:21px" x="716.10" y="24.80" text-anchor="middle">(b)</text>
<path d="M582.9,71.1 h39.20" stroke="#0000ab" stroke-width="2" fill="none"/>
<text class="lg" x="628.10" y="74.40">S<tspan font-size="19.5" dx="0.3" dy="2.2">−</tspan><tspan dx="0.3" dy="-2.2">wave</tspan></text>
<path d="M582.9,91.5 h38.00" stroke="#ab0000" stroke-width="2" stroke-dasharray="6 2" fill="none"/>
<text class="lg" x="628.10" y="94.90">P<tspan font-size="19.5" dx="0.3" dy="2.2">−</tspan><tspan dx="0.3" dy="-2.2">wave (triplet)</tspan></text>
</g>
<!-- panel c -->
<g>
<path d="M57.20,269.73 L59.15,269.78 L61.11,269.96 L63.06,270.26 L65.01,270.67 L66.96,271.21 L68.92,271.86 L70.87,272.62 L72.82,273.51 L74.77,274.50 L76.72,275.60 L78.68,276.81 L80.63,278.12 L82.58,279.54 L84.53,281.05 L86.49,282.65 L88.44,284.35 L90.39,286.13 L92.34,288.00 L94.30,289.94 L96.25,291.96 L98.20,294.05 L100.16,296.20 L102.11,298.42 L104.06,300.69 L106.01,303.01 L107.97,305.38 L109.92,307.79 L111.87,310.24 L113.82,312.73 L115.78,315.24 L117.73,317.77 L119.68,320.33 L121.63,322.90 L123.59,325.48 L125.54,328.07 L127.49,330.67 L129.44,333.26 L131.39,335.85 L133.35,338.43 L135.30,341.00 L137.25,343.55 L139.20,346.09 L141.16,348.60 L143.11,351.09 L145.06,353.55 L147.01,355.99 L148.97,358.39 L150.92,360.76 L152.87,363.09 L154.82,365.39 L156.78,367.65 L158.73,369.86 L160.68,372.04 L162.63,374.17 L164.59,376.26 L166.54,378.31 L168.49,380.31 L170.44,382.27 L172.40,384.18 L174.35,386.05 L176.30,387.88 L178.25,389.66 L180.21,391.39 L182.16,393.09 L184.11,394.74 L186.06,396.35 L188.02,397.91 L189.97,399.44 L191.92,400.92 L193.88,402.37 L195.83,403.77 L197.78,405.14 L199.73,406.47 L201.69,407.77 L203.64,409.03 L205.59,410.25 L207.54,411.44 L209.50,412.60 L211.45,413.73 L213.40,414.82 L215.35,415.88 L217.31,416.91 L219.26,417.91 L221.21,418.89 L223.16,419.83 L225.12,420.75 L227.07,421.64 L229.02,422.51 L230.97,423.35 L232.93,424.16 L234.88,424.95 L236.83,425.72 L238.78,426.46 L240.74,427.18 L242.69,427.88 L244.64,428.56 L246.59,429.22 L248.55,429.86 L250.50,430.47 L252.45,431.07 L254.40,431.65 L256.36,432.21 L258.31,432.75 L260.26,433.27 L262.21,433.77 L264.17,434.26 L266.12,434.74 L268.07,435.19 L270.02,435.64 L271.97,436.06 L273.93,436.48 L275.88,436.87 L277.83,437.26 L279.78,437.63 L281.74,437.99 L283.69,438.34 L285.64,438.67 L287.60,439.00 L289.55,439.31 L291.50,439.61 L293.45,439.90 L295.41,440.18 L297.36,440.46 L299.31,440.72 L301.26,440.97 L303.22,441.22 L305.17,441.45 L307.12,441.68 L309.07,441.90 L311.02,442.11 L312.98,442.32 L314.93,442.52 L316.88,442.71 L318.83,442.89 L320.79,443.07 L322.74,443.24 L324.69,443.41 L326.64,443.57 L328.60,443.73 L330.55,443.88 L332.50,444.03 L334.45,444.17 L336.41,444.31 L338.36,444.45 L340.31,444.58 L342.26,444.71 L344.22,444.83 L346.17,444.95 L348.12,445.07 L350.07,445.19 L352.03,445.30 L353.98,445.41 L355.93,445.52 L357.88,445.63 L359.84,445.74 L361.79,445.84 L363.74,445.94 L365.69,446.05 L367.65,446.15 L369.60,446.25 L369.60,450.30 L57.20,450.30 Z" fill="#0000ab" fill-opacity="0.2" stroke="none"/>
<path d="M57.20,450.60 L61.11,450.60 L65.01,450.60 L68.92,450.60 L72.82,450.60 L76.72,450.60 L80.63,450.60 L84.53,450.60 L88.44,450.60 L92.34,450.60 L96.25,450.60 L100.16,450.60 L104.06,450.60 L107.97,450.60 L111.87,450.60 L115.78,450.60 L119.68,450.60 L123.58,450.60 L127.49,450.60 L131.39,450.60 L135.30,450.60 L139.20,450.60 L143.11,450.60 L147.01,450.60 L150.92,450.60 L154.82,450.60 L158.73,450.60 L162.63,450.60 L166.54,450.60 L170.44,450.60 L174.35,450.60 L178.25,450.60 L182.16,450.60 L186.06,450.60 L189.97,450.60 L193.88,450.60 L197.78,450.60 L201.69,450.60 L205.59,450.60 L209.50,450.60 L213.40,450.60 L217.31,450.60 L221.21,450.60 L225.12,450.60 L229.02,450.60 L232.93,450.60 L236.83,450.60 L240.74,450.60 L244.64,450.60 L248.55,450.60 L252.45,450.60 L256.36,450.60 L260.26,450.60 L264.17,450.60 L268.07,450.60 L271.97,450.60 L275.88,450.60 L279.78,450.60 L283.69,450.60 L287.59,450.60 L291.50,450.60 L295.40,450.60 L299.31,450.60 L303.21,450.60 L307.12,450.60 L311.02,450.60 L314.93,450.60 L318.83,450.60 L322.74,450.60 L326.64,450.60 L330.55,450.60 L334.45,450.60 L338.36,450.60 L342.26,450.60 L346.17,450.60 L350.07,450.60 L353.98,450.60 L357.88,450.60 L361.79,450.60 L365.69,450.60 L369.60,450.60 L369.60,450.30 L57.20,450.30 Z" fill="#00ab00" fill-opacity="0.2" stroke="none"/>
<path d="M57.20,450.20 L61.11,450.18 L65.01,450.16 L68.92,450.14 L72.82,450.11 L76.72,450.09 L80.63,450.06 L84.53,450.03 L88.44,450.00 L92.34,449.97 L96.25,449.94 L100.16,449.91 L104.06,449.88 L107.97,449.86 L111.87,449.84 L115.78,449.82 L119.68,449.81 L123.58,449.80 L127.49,449.80 L131.39,449.80 L135.30,449.81 L139.20,449.82 L143.11,449.84 L147.01,449.86 L150.92,449.88 L154.82,449.91 L158.73,449.94 L162.63,449.97 L166.54,450.00 L170.44,450.03 L174.35,450.06 L178.25,450.09 L182.16,450.11 L186.06,450.14 L189.97,450.16 L193.88,450.18 L197.78,450.20 L201.69,450.22 L205.59,450.23 L209.50,450.24 L213.40,450.26 L217.31,450.26 L221.21,450.27 L225.12,450.28 L229.02,450.28 L232.93,450.29 L236.83,450.29 L240.74,450.29 L244.64,450.29 L248.55,450.30 L252.45,450.30 L256.36,450.30 L260.26,450.30 L264.17,450.30 L268.07,450.30 L271.97,450.30 L275.88,450.30 L279.78,450.30 L283.69,450.30 L287.59,450.30 L291.50,450.30 L295.40,450.30 L299.31,450.30 L303.21,450.30 L307.12,450.30 L311.02,450.30 L314.93,450.30 L318.83,450.30 L322.74,450.30 L326.64,450.30 L330.55,450.30 L334.45,450.30 L338.36,450.30 L342.26,450.30 L346.17,450.30 L350.07,450.30 L353.98,450.30 L357.88,450.30 L361.79,450.30 L365.69,450.30 L369.60,450.30 L369.60,450.30 L57.20,450.30 Z" fill="#666666" fill-opacity="0.2" stroke="none"/>
<path d="M57.20,450.10 L61.11,450.06 L65.01,450.02 L68.92,449.98 L72.82,449.92 L76.72,449.87 L80.63,449.81 L84.53,449.75 L88.44,449.69 L92.34,449.63 L96.25,449.57 L100.16,449.52 L104.06,449.46 L107.97,449.42 L111.87,449.38 L115.78,449.34 L119.68,449.32 L123.58,449.30 L127.49,449.30 L131.39,449.30 L135.30,449.32 L139.20,449.34 L143.11,449.38 L147.01,449.42 L150.92,449.46 L154.82,449.52 L158.73,449.57 L162.63,449.63 L166.54,449.69 L170.44,449.75 L174.35,449.81 L178.25,449.87 L182.16,449.92 L186.06,449.98 L189.97,450.02 L193.88,450.06 L197.78,450.10 L201.69,450.14 L205.59,450.16 L209.50,450.19 L213.40,450.21 L217.31,450.23 L221.21,450.24 L225.12,450.26 L229.02,450.27 L232.93,450.27 L236.83,450.28 L240.74,450.29 L244.64,450.29 L248.55,450.29 L252.45,450.29 L256.36,450.30 L260.26,450.30 L264.17,450.30 L268.07,450.30 L271.97,450.30 L275.88,450.30 L279.78,450.30 L283.69,450.30 L287.59,450.30 L291.50,450.30 L295.40,450.30 L299.31,450.30 L303.21,450.30 L307.12,450.30 L311.02,450.30 L314.93,450.30 L318.83,450.30 L322.74,450.30 L326.64,450.30 L330.55,450.30 L334.45,450.30 L338.36,450.30 L342.26,450.30 L346.17,450.30 L350.07,450.30 L353.98,450.30 L357.88,450.30 L361.79,450.30 L365.69,450.30 L369.60,450.30 L369.60,450.30 L57.20,450.30 Z" fill="#ab0000" fill-opacity="0.2" stroke="none"/>
<path d="M56.20,269.73 L57.20,269.73 L59.15,269.78 L61.11,269.96 L63.06,270.26 L65.01,270.67 L66.96,271.21 L68.92,271.86 L70.87,272.62 L72.82,273.51 L74.77,274.50 L76.72,275.60 L78.68,276.81 L80.63,278.12 L82.58,279.54 L84.53,281.05 L86.49,282.65 L88.44,284.35 L90.39,286.13 L92.34,288.00 L94.30,289.94 L96.25,291.96 L98.20,294.05 L100.16,296.20 L102.11,298.42 L104.06,300.69 L106.01,303.01 L107.97,305.38 L109.92,307.79 L111.87,310.24 L113.82,312.73 L115.78,315.24 L117.73,317.77 L119.68,320.33 L121.63,322.90 L123.59,325.48 L125.54,328.07 L127.49,330.67 L129.44,333.26 L131.39,335.85 L133.35,338.43 L135.30,341.00 L137.25,343.55 L139.20,346.09 L141.16,348.60 L143.11,351.09 L145.06,353.55 L147.01,355.99 L148.97,358.39 L150.92,360.76 L152.87,363.09 L154.82,365.39 L156.78,367.65 L158.73,369.86 L160.68,372.04 L162.63,374.17 L164.59,376.26 L166.54,378.31 L168.49,380.31 L170.44,382.27 L172.40,384.18 L174.35,386.05 L176.30,387.88 L178.25,389.66 L180.21,391.39 L182.16,393.09 L184.11,394.74 L186.06,396.35 L188.02,397.91 L189.97,399.44 L191.92,400.92 L193.88,402.37 L195.83,403.77 L197.78,405.14 L199.73,406.47 L201.69,407.77 L203.64,409.03 L205.59,410.25 L207.54,411.44 L209.50,412.60 L211.45,413.73 L213.40,414.82 L215.35,415.88 L217.31,416.91 L219.26,417.91 L221.21,418.89 L223.16,419.83 L225.12,420.75 L227.07,421.64 L229.02,422.51 L230.97,423.35 L232.93,424.16 L234.88,424.95 L236.83,425.72 L238.78,426.46 L240.74,427.18 L242.69,427.88 L244.64,428.56 L246.59,429.22 L248.55,429.86 L250.50,430.47 L252.45,431.07 L254.40,431.65 L256.36,432.21 L258.31,432.75 L260.26,433.27 L262.21,433.77 L264.17,434.26 L266.12,434.74 L268.07,435.19 L270.02,435.64 L271.97,436.06 L273.93,436.48 L275.88,436.87 L277.83,437.26 L279.78,437.63 L281.74,437.99 L283.69,438.34 L285.64,438.67 L287.60,439.00 L289.55,439.31 L291.50,439.61 L293.45,439.90 L295.41,440.18 L297.36,440.46 L299.31,440.72 L301.26,440.97 L303.22,441.22 L305.17,441.45 L307.12,441.68 L309.07,441.90 L311.02,442.11 L312.98,442.32 L314.93,442.52 L316.88,442.71 L318.83,442.89 L320.79,443.07 L322.74,443.24 L324.69,443.41 L326.64,443.57 L328.60,443.73 L330.55,443.88 L332.50,444.03 L334.45,444.17 L336.41,444.31 L338.36,444.45 L340.31,444.58 L342.26,444.71 L344.22,444.83 L346.17,444.95 L348.12,445.07 L350.07,445.19 L352.03,445.30 L353.98,445.41 L355.93,445.52 L357.88,445.63 L359.84,445.74 L361.79,445.84 L363.74,445.94 L365.69,446.05 L367.65,446.15 L369.60,446.25 L370.60,446.25" fill="none" stroke="#0000ab" stroke-width="2" stroke-linejoin="round"/>
<path d="M56.20,450.60 L57.20,450.60 L61.11,450.60 L65.01,450.60 L68.92,450.60 L72.82,450.60 L76.72,450.60 L80.63,450.60 L84.53,450.60 L88.44,450.60 L92.34,450.60 L96.25,450.60 L100.16,450.60 L104.06,450.60 L107.97,450.60 L111.87,450.60 L115.78,450.60 L119.68,450.60 L123.58,450.60 L127.49,450.60 L131.39,450.60 L135.30,450.60 L139.20,450.60 L143.11,450.60 L147.01,450.60 L150.92,450.60 L154.82,450.60 L158.73,450.60 L162.63,450.60 L166.54,450.60 L170.44,450.60 L174.35,450.60 L178.25,450.60 L182.16,450.60 L186.06,450.60 L189.97,450.60 L193.88,450.60 L197.78,450.60 L201.69,450.60 L205.59,450.60 L209.50,450.60 L213.40,450.60 L217.31,450.60 L221.21,450.60 L225.12,450.60 L229.02,450.60 L232.93,450.60 L236.83,450.60 L240.74,450.60 L244.64,450.60 L248.55,450.60 L252.45,450.60 L256.36,450.60 L260.26,450.60 L264.17,450.60 L268.07,450.60 L271.97,450.60 L275.88,450.60 L279.78,450.60 L283.69,450.60 L287.59,450.60 L291.50,450.60 L295.40,450.60 L299.31,450.60 L303.21,450.60 L307.12,450.60 L311.02,450.60 L314.93,450.60 L318.83,450.60 L322.74,450.60 L326.64,450.60 L330.55,450.60 L334.45,450.60 L338.36,450.60 L342.26,450.60 L346.17,450.60 L350.07,450.60 L353.98,450.60 L357.88,450.60 L361.79,450.60 L365.69,450.60 L369.60,450.60 L370.60,450.60" fill="none" stroke="#00ab00" stroke-width="2" stroke-dasharray="3.2 1.75" stroke-linejoin="round"/>
<path d="M56.20,450.20 L57.20,450.20 L61.11,450.18 L65.01,450.16 L68.92,450.14 L72.82,450.11 L76.72,450.09 L80.63,450.06 L84.53,450.03 L88.44,450.00 L92.34,449.97 L96.25,449.94 L100.16,449.91 L104.06,449.88 L107.97,449.86 L111.87,449.84 L115.78,449.82 L119.68,449.81 L123.58,449.80 L127.49,449.80 L131.39,449.80 L135.30,449.81 L139.20,449.82 L143.11,449.84 L147.01,449.86 L150.92,449.88 L154.82,449.91 L158.73,449.94 L162.63,449.97 L166.54,450.00 L170.44,450.03 L174.35,450.06 L178.25,450.09 L182.16,450.11 L186.06,450.14 L189.97,450.16 L193.88,450.18 L197.78,450.20 L201.69,450.22 L205.59,450.23 L209.50,450.24 L213.40,450.26 L217.31,450.26 L221.21,450.27 L225.12,450.28 L229.02,450.28 L232.93,450.29 L236.83,450.29 L240.74,450.29 L244.64,450.29 L248.55,450.30 L252.45,450.30 L256.36,450.30 L260.26,450.30 L264.17,450.30 L268.07,450.30 L271.97,450.30 L275.88,450.30 L279.78,450.30 L283.69,450.30 L287.59,450.30 L291.50,450.30 L295.40,450.30 L299.31,450.30 L303.21,450.30 L307.12,450.30 L311.02,450.30 L314.93,450.30 L318.83,450.30 L322.74,450.30 L326.64,450.30 L330.55,450.30 L334.45,450.30 L338.36,450.30 L342.26,450.30 L346.17,450.30 L350.07,450.30 L353.98,450.30 L357.88,450.30 L361.79,450.30 L365.69,450.30 L369.60,450.30 L370.60,450.30" fill="none" stroke="#666666" stroke-width="2" stroke-dasharray="2.95 2.1 5.95 2.05" stroke-linejoin="round"/>
<path d="M56.20,450.10 L57.20,450.10 L61.11,450.06 L65.01,450.02 L68.92,449.98 L72.82,449.92 L76.72,449.87 L80.63,449.81 L84.53,449.75 L88.44,449.69 L92.34,449.63 L96.25,449.57 L100.16,449.52 L104.06,449.46 L107.97,449.42 L111.87,449.38 L115.78,449.34 L119.68,449.32 L123.58,449.30 L127.49,449.30 L131.39,449.30 L135.30,449.32 L139.20,449.34 L143.11,449.38 L147.01,449.42 L150.92,449.46 L154.82,449.52 L158.73,449.57 L162.63,449.63 L166.54,449.69 L170.44,449.75 L174.35,449.81 L178.25,449.87 L182.16,449.92 L186.06,449.98 L189.97,450.02 L193.88,450.06 L197.78,450.10 L201.69,450.14 L205.59,450.16 L209.50,450.19 L213.40,450.21 L217.31,450.23 L221.21,450.24 L225.12,450.26 L229.02,450.27 L232.93,450.27 L236.83,450.28 L240.74,450.29 L244.64,450.29 L248.55,450.29 L252.45,450.29 L256.36,450.30 L260.26,450.30 L264.17,450.30 L268.07,450.30 L271.97,450.30 L275.88,450.30 L279.78,450.30 L283.69,450.30 L287.59,450.30 L291.50,450.30 L295.40,450.30 L299.31,450.30 L303.21,450.30 L307.12,450.30 L311.02,450.30 L314.93,450.30 L318.83,450.30 L322.74,450.30 L326.64,450.30 L330.55,450.30 L334.45,450.30 L338.36,450.30 L342.26,450.30 L346.17,450.30 L350.07,450.30 L353.98,450.30 L357.88,450.30 L361.79,450.30 L365.69,450.30 L369.60,450.30 L370.60,450.30" fill="none" stroke="#ab0000" stroke-width="2" stroke-dasharray="6 2" stroke-linejoin="round"/>
<rect x="50.5" y="259.5" width="326" height="201" fill="none" stroke="#5c5c5c" stroke-width="1"/>
<path d="M57.20,460.5 v-4.0 M57.20,259.5 v4.0 M72.82,460.5 v-2.2 M72.82,259.5 v2.2 M88.44,460.5 v-2.2 M88.44,259.5 v2.2 M104.06,460.5 v-2.2 M104.06,259.5 v2.2 M119.68,460.5 v-2.2 M119.68,259.5 v2.2 M135.30,460.5 v-4.0 M135.30,259.5 v4.0 M150.92,460.5 v-2.2 M150.92,259.5 v2.2 M166.54,460.5 v-2.2 M166.54,259.5 v2.2 M182.16,460.5 v-2.2 M182.16,259.5 v2.2 M197.78,460.5 v-2.2 M197.78,259.5 v2.2 M213.40,460.5 v-4.0 M213.40,259.5 v4.0 M229.02,460.5 v-2.2 M229.02,259.5 v2.2 M244.64,460.5 v-2.2 M244.64,259.5 v2.2 M260.26,460.5 v-2.2 M260.26,259.5 v2.2 M275.88,460.5 v-2.2 M275.88,259.5 v2.2 M291.50,460.5 v-4.0 M291.50,259.5 v4.0 M307.12,460.5 v-2.2 M307.12,259.5 v2.2 M322.74,460.5 v-2.2 M322.74,259.5 v2.2 M338.36,460.5 v-2.2 M338.36,259.5 v2.2 M353.98,460.5 v-2.2 M353.98,259.5 v2.2 M369.60,460.5 v-4.0 M369.60,259.5 v4.0 M50.5,457.10 h2.4 M376.5,457.10 h-2.4 M50.5,450.30 h4.2 M376.5,450.30 h-4.2 M50.5,443.50 h2.4 M376.5,443.50 h-2.4 M50.5,436.70 h2.4 M376.5,436.70 h-2.4 M50.5,429.90 h2.4 M376.5,429.90 h-2.4 M50.5,423.10 h4.2 M376.5,423.10 h-4.2 M50.5,416.30 h2.4 M376.5,416.30 h-2.4 M50.5,409.50 h2.4 M376.5,409.50 h-2.4 M50.5,402.70 h2.4 M376.5,402.70 h-2.4 M50.5,395.90 h4.2 M376.5,395.90 h-4.2 M50.5,389.10 h2.4 M376.5,389.10 h-2.4 M50.5,382.30 h2.4 M376.5,382.30 h-2.4 M50.5,375.50 h2.4 M376.5,375.50 h-2.4 M50.5,368.70 h4.2 M376.5,368.70 h-4.2 M50.5,361.90 h2.4 M376.5,361.90 h-2.4 M50.5,355.10 h2.4 M376.5,355.10 h-2.4 M50.5,348.30 h2.4 M376.5,348.30 h-2.4 M50.5,341.50 h4.2 M376.5,341.50 h-4.2 M50.5,334.70 h2.4 M376.5,334.70 h-2.4 M50.5,327.90 h2.4 M376.5,327.90 h-2.4 M50.5,321.10 h2.4 M376.5,321.10 h-2.4 M50.5,314.30 h4.2 M376.5,314.30 h-4.2 M50.5,307.50 h2.4 M376.5,307.50 h-2.4 M50.5,300.70 h2.4 M376.5,300.70 h-2.4 M50.5,293.90 h2.4 M376.5,293.90 h-2.4 M50.5,287.10 h4.2 M376.5,287.10 h-4.2 M50.5,280.30 h2.4 M376.5,280.30 h-2.4 M50.5,273.50 h2.4 M376.5,273.50 h-2.4 M50.5,266.70 h2.4 M376.5,266.70 h-2.4 M50.5,259.90 h4.2 M376.5,259.90 h-4.2" stroke="#5c5c5c" stroke-width="1" fill="none"/>
<g class="tk">
<text x="57.20" y="477.20" text-anchor="middle">0</text>
<text x="135.30" y="477.20" text-anchor="middle">1</text>
<text x="213.40" y="477.20" text-anchor="middle">2</text>
<text x="291.50" y="477.20" text-anchor="middle">3</text>
<text x="369.60" y="477.20" text-anchor="middle">4</text>
<text x="47.50" y="455.50" text-anchor="end">0.0</text>
<text x="47.50" y="428.30" text-anchor="end">0.2</text>
<text x="47.50" y="401.10" text-anchor="end">0.4</text>
<text x="47.50" y="373.90" text-anchor="end">0.6</text>
<text x="47.50" y="346.70" text-anchor="end">0.8</text>
<text x="47.50" y="319.50" text-anchor="end">1.0</text>
<text x="47.50" y="292.30" text-anchor="end">1.2</text>
<text x="47.50" y="265.10" text-anchor="end">1.4</text>
</g>
<text class="ax" x="213.50" y="501.20" text-anchor="middle">p (GeV)</text>
<g transform="translate(15.00,413.90) rotate(-90)"><text class="ax" x="0" y="0" word-spacing="0.1"><tspan font-style="italic">ψ</tspan><tspan dx="-0.8">(p) (GeV</tspan></text><path d="M77.2,-9.1 H84.0" stroke="#000" stroke-width="1.0" fill="none"/><text class="sup" x="84.6" y="-5.4">3</text><path d="M91.3,-3.6 L98.5,-14.0" stroke="#000" stroke-width="0.95" fill="none"/><text class="sup" x="96.2" y="-5.4">2</text><text class="ax" x="102.3" y="0">)</text></g>
<text class="ti" x="189.20" y="283.80">J<tspan font-size="15.2" dy="-8.8" dx="-0.2">P</tspan><tspan dy="10.6" dx="1.2">=</tspan><tspan dx="0.2" dy="-1.8">1</tspan><tspan font-size="15.8" dy="-6.9" dx="1.1">−</tspan></text>
<text class="ti" style="font-size:21px" x="330.20" y="283.80" text-anchor="middle">(c)</text>
<path d="M193.9,313.0 h39.80" stroke="#0000ab" stroke-width="2" fill="none"/>
<text class="lg" x="239.00" y="316.10">S<tspan font-size="19.5" dx="0.3" dy="2.2">−</tspan><tspan dx="0.3" dy="-2.2">wave</tspan></text>
<path d="M193.9,333.3 h38.00" stroke="#00ab00" stroke-width="2" stroke-dasharray="3.2 1.75" fill="none"/>
<text class="lg" x="239.00" y="336.60">D<tspan font-size="19.5" dx="0.3" dy="2.2">−</tspan><tspan dx="0.3" dy="-2.2">wave</tspan></text>
<path d="M193.9,353.6 h37.10" stroke="#666666" stroke-width="2" stroke-dasharray="2.95 2.1 5.95 2.05" fill="none"/>
<text class="lg" x="239.00" y="357.10">P<tspan font-size="19.5" dx="0.3" dy="2.2">−</tspan><tspan dx="0.3" dy="-2.2">wave (singlet)</tspan></text>
<path d="M193.9,375.2 h38.00" stroke="#ab0000" stroke-width="2" stroke-dasharray="6 2" fill="none"/>
<text class="lg" x="239.00" y="378.50">P<tspan font-size="19.5" dx="0.3" dy="2.2">−</tspan><tspan dx="0.3" dy="-2.2">wave (triplet)</tspan></text>
</g>
<!-- panel d -->
<g>
<path d="M442.80,446.20 L443.92,446.13 L445.35,446.04 L447.04,445.94 L448.94,445.82 L451.00,445.69 L453.19,445.56 L455.44,445.43 L457.73,445.31 L460.00,445.20 L461.68,445.12 L463.36,445.03 L465.06,444.94 L466.79,444.86 L468.55,444.77 L470.38,444.68 L472.27,444.60 L474.24,444.52 L476.30,444.45 L478.48,444.39 L480.77,444.34 L483.20,444.30 L484.82,444.28 L486.51,444.27 L488.26,444.26 L490.08,444.25 L491.95,444.24 L493.86,444.24 L495.81,444.25 L497.80,444.25 L499.82,444.26 L501.85,444.27 L503.90,444.28 L505.95,444.29 L508.01,444.30 L510.06,444.32 L512.10,444.34 L514.12,444.35 L516.11,444.37 L518.08,444.38 L520.00,444.40 L521.99,444.42 L523.95,444.44 L525.89,444.46 L527.80,444.48 L529.70,444.50 L531.60,444.53 L533.48,444.55 L535.37,444.58 L537.27,444.61 L539.18,444.64 L541.10,444.67 L543.05,444.70 L545.02,444.73 L547.03,444.76 L549.08,444.79 L551.17,444.83 L553.31,444.86 L555.50,444.90 L557.24,444.93 L558.99,444.96 L560.75,444.99 L562.51,445.03 L564.29,445.06 L566.08,445.09 L567.88,445.13 L569.70,445.17 L571.54,445.21 L573.39,445.24 L575.27,445.28 L577.17,445.32 L579.09,445.36 L581.04,445.39 L583.02,445.43 L585.03,445.47 L587.06,445.51 L589.13,445.54 L591.23,445.57 L593.36,445.61 L595.54,445.64 L597.75,445.67 L600.00,445.70 L601.68,445.72 L603.36,445.74 L605.04,445.76 L606.73,445.78 L608.41,445.80 L610.10,445.82 L611.80,445.84 L613.51,445.86 L615.23,445.88 L616.96,445.89 L618.71,445.91 L620.47,445.93 L622.26,445.95 L624.06,445.96 L625.89,445.98 L627.75,446.00 L629.63,446.01 L631.54,446.03 L633.49,446.04 L635.47,446.06 L637.48,446.07 L639.53,446.09 L641.62,446.10 L643.75,446.11 L645.92,446.13 L648.15,446.14 L650.41,446.15 L652.73,446.16 L655.10,446.18 L657.52,446.19 L660.00,446.20 L661.65,446.21 L663.38,446.21 L665.16,446.22 L667.01,446.23 L668.92,446.23 L670.88,446.24 L672.90,446.25 L674.96,446.25 L677.06,446.26 L679.20,446.26 L681.38,446.27 L683.60,446.28 L685.84,446.28 L688.11,446.29 L690.40,446.29 L692.71,446.30 L695.04,446.30 L697.37,446.31 L699.72,446.31 L702.07,446.31 L704.42,446.32 L706.77,446.32 L709.12,446.33 L711.45,446.33 L713.77,446.34 L716.08,446.34 L718.36,446.34 L720.62,446.35 L722.85,446.35 L725.06,446.35 L727.23,446.36 L729.36,446.36 L731.44,446.36 L733.49,446.37 L735.48,446.37 L737.43,446.37 L739.32,446.37 L741.15,446.38 L742.91,446.38 L744.61,446.38 L746.24,446.38 L747.80,446.39 L749.28,446.39 L750.68,446.39 L751.99,446.39 L753.22,446.40 L754.36,446.40 L755.40,446.40 L755.40,446.40 L442.80,446.40 Z" fill="#0000ab" fill-opacity="0.2" stroke="none"/>
<path d="M442.80,446.50 L446.71,446.50 L450.62,446.50 L454.52,446.50 L458.43,446.50 L462.34,446.50 L466.25,446.50 L470.15,446.50 L474.06,446.50 L477.97,446.50 L481.88,446.50 L485.78,446.50 L489.69,446.50 L493.60,446.50 L497.50,446.50 L501.41,446.50 L505.32,446.50 L509.23,446.50 L513.13,446.50 L517.04,446.50 L520.95,446.50 L524.86,446.50 L528.76,446.50 L532.67,446.50 L536.58,446.50 L540.49,446.50 L544.39,446.50 L548.30,446.50 L552.21,446.50 L556.12,446.50 L560.03,446.50 L563.93,446.50 L567.84,446.50 L571.75,446.50 L575.66,446.50 L579.56,446.50 L583.47,446.50 L587.38,446.50 L591.29,446.50 L595.19,446.50 L599.10,446.50 L603.01,446.50 L606.92,446.50 L610.82,446.50 L614.73,446.50 L618.64,446.50 L622.55,446.50 L626.45,446.50 L630.36,446.50 L634.27,446.50 L638.18,446.50 L642.08,446.50 L645.99,446.50 L649.90,446.50 L653.81,446.50 L657.71,446.50 L661.62,446.50 L665.53,446.50 L669.44,446.50 L673.34,446.50 L677.25,446.50 L681.16,446.50 L685.07,446.50 L688.97,446.50 L692.88,446.50 L696.79,446.50 L700.70,446.50 L704.60,446.50 L708.51,446.50 L712.42,446.50 L716.33,446.50 L720.23,446.50 L724.14,446.50 L728.05,446.50 L731.96,446.50 L735.86,446.50 L739.77,446.50 L743.68,446.50 L747.59,446.50 L751.49,446.50 L755.40,446.50 L755.40,446.40 L442.80,446.40 Z" fill="#00ab00" fill-opacity="0.2" stroke="none"/>
<path d="M442.80,446.26 L444.75,443.73 L446.71,441.29 L448.66,438.94 L450.62,436.69 L452.57,434.53 L454.52,432.46 L456.48,430.47 L458.43,428.55 L460.38,426.71 L462.34,424.94 L464.29,423.23 L466.25,421.59 L468.20,420.02 L470.15,418.53 L472.11,417.12 L474.06,415.80 L476.01,414.57 L477.97,413.43 L479.92,412.38 L481.88,411.42 L483.83,410.56 L485.78,409.79 L487.74,409.11 L489.69,408.52 L491.64,408.01 L493.60,407.60 L495.55,407.27 L497.50,407.03 L499.46,406.86 L501.41,406.79 L503.37,406.79 L505.32,406.86 L507.27,407.00 L509.23,407.22 L511.18,407.49 L513.13,407.83 L515.09,408.23 L517.04,408.67 L519.00,409.17 L520.95,409.70 L522.90,410.28 L524.86,410.90 L526.81,411.55 L528.76,412.22 L530.72,412.92 L532.67,413.65 L534.63,414.39 L536.58,415.15 L538.53,415.93 L540.49,416.72 L542.44,417.51 L544.39,418.32 L546.35,419.13 L548.30,419.94 L550.26,420.75 L552.21,421.56 L554.16,422.37 L556.12,423.16 L558.07,423.95 L560.02,424.73 L561.98,425.50 L563.93,426.25 L565.89,426.99 L567.84,427.72 L569.79,428.42 L571.75,429.11 L573.70,429.78 L575.65,430.43 L577.61,431.07 L579.56,431.68 L581.52,432.27 L583.47,432.84 L585.42,433.40 L587.38,433.93 L589.33,434.44 L591.29,434.94 L593.24,435.41 L595.19,435.87 L597.15,436.31 L599.10,436.73 L601.05,437.13 L603.01,437.51 L604.96,437.88 L606.91,438.23 L608.87,438.57 L610.82,438.89 L612.78,439.20 L614.73,439.49 L616.68,439.77 L618.64,440.04 L620.59,440.30 L622.55,440.54 L624.50,440.78 L626.45,441.00 L628.41,441.21 L630.36,441.42 L632.31,441.61 L634.27,441.80 L636.22,441.98 L638.17,442.15 L640.13,442.31 L642.08,442.47 L644.04,442.62 L645.99,442.77 L647.94,442.90 L649.90,443.04 L651.85,443.17 L653.81,443.29 L655.76,443.41 L657.71,443.52 L659.67,443.63 L661.62,443.73 L663.57,443.83 L665.53,443.93 L667.48,444.02 L669.44,444.11 L671.39,444.20 L673.34,444.28 L675.30,444.36 L677.25,444.44 L679.20,444.51 L681.16,444.58 L683.11,444.65 L685.07,444.72 L687.02,444.78 L688.97,444.84 L690.93,444.90 L692.88,444.95 L694.83,445.00 L696.79,445.05 L698.74,445.10 L700.70,445.14 L702.65,445.18 L704.60,445.22 L706.56,445.26 L708.51,445.29 L710.46,445.33 L712.42,445.36 L714.37,445.38 L716.33,445.41 L718.28,445.43 L720.23,445.45 L722.19,445.47 L724.14,445.49 L726.09,445.50 L728.05,445.51 L730.00,445.52 L731.96,445.53 L733.91,445.54 L735.86,445.54 L737.82,445.54 L739.77,445.54 L741.72,445.54 L743.68,445.53 L745.63,445.52 L747.59,445.51 L749.54,445.50 L751.49,445.49 L753.45,445.47 L755.40,445.45 L755.40,446.40 L442.80,446.40 Z" fill="#666666" fill-opacity="0.2" stroke="none"/>
<path d="M442.80,446.33 L444.75,437.79 L446.71,428.40 L448.66,418.44 L450.62,408.20 L452.57,397.97 L454.52,388.04 L456.48,378.56 L458.43,369.52 L460.38,360.91 L462.34,352.70 L464.29,344.85 L466.25,337.34 L468.20,330.15 L470.15,323.29 L472.11,316.77 L474.06,310.62 L476.01,304.85 L477.97,299.45 L479.92,294.45 L481.88,289.84 L483.83,285.63 L485.78,281.82 L487.74,278.42 L489.69,275.43 L491.64,272.84 L493.60,270.64 L495.55,268.84 L497.50,267.43 L499.46,266.38 L501.41,265.70 L503.37,265.37 L505.32,265.38 L507.27,265.72 L509.23,266.37 L511.18,267.32 L513.13,268.55 L515.09,270.05 L517.04,271.80 L519.00,273.78 L520.95,275.99 L522.90,278.39 L524.86,280.97 L526.81,283.71 L528.76,286.59 L530.72,289.59 L532.67,292.69 L534.63,295.86 L536.58,299.08 L538.53,302.34 L540.49,305.62 L542.44,309.03 L544.39,312.71 L546.35,316.80 L548.30,321.36 L550.26,325.74 L552.21,329.37 L554.16,332.51 L556.12,335.53 L558.07,338.62 L560.02,341.88 L561.98,345.41 L563.93,349.32 L565.89,353.67 L567.84,357.97 L569.79,361.39 L571.75,363.91 L573.70,366.27 L575.65,369.15 L577.61,372.18 L579.56,375.08 L581.52,377.80 L583.47,380.34 L585.42,382.67 L587.38,384.89 L589.33,387.05 L591.29,389.15 L593.24,391.20 L595.19,393.19 L597.15,395.13 L599.10,397.00 L601.05,398.82 L603.01,400.58 L604.96,402.29 L606.91,403.95 L608.87,405.55 L610.82,407.10 L612.78,408.60 L614.73,410.05 L616.68,411.44 L618.64,412.80 L620.59,414.10 L622.55,415.36 L624.50,416.57 L626.45,417.74 L628.41,418.87 L630.36,419.95 L632.31,420.99 L634.27,421.98 L636.22,422.94 L638.17,423.85 L640.13,424.73 L642.08,425.57 L644.04,426.37 L645.99,427.14 L647.94,427.88 L649.90,428.59 L651.85,429.27 L653.81,429.92 L655.76,430.54 L657.71,431.14 L659.67,431.72 L661.62,432.27 L663.57,432.80 L665.53,433.30 L667.48,433.79 L669.44,434.26 L671.39,434.71 L673.34,435.14 L675.30,435.55 L677.25,435.95 L679.20,436.33 L681.16,436.69 L683.11,437.04 L685.07,437.37 L687.02,437.69 L688.97,438.00 L690.93,438.30 L692.88,438.58 L694.83,438.85 L696.79,439.11 L698.74,439.35 L700.70,439.59 L702.65,439.82 L704.60,440.04 L706.56,440.24 L708.51,440.44 L710.46,440.63 L712.42,440.81 L714.37,440.99 L716.33,441.15 L718.28,441.31 L720.23,441.46 L722.19,441.61 L724.14,441.75 L726.09,441.88 L728.05,442.01 L730.00,442.13 L731.96,442.25 L733.91,442.37 L735.86,442.48 L737.82,442.59 L739.77,442.69 L741.72,442.79 L743.68,442.89 L745.63,442.99 L747.59,443.08 L749.54,443.17 L751.49,443.27 L753.45,443.36 L755.40,443.45 L755.40,446.40 L442.80,446.40 Z" fill="#ab0000" fill-opacity="0.2" stroke="none"/>
<path d="M441.80,446.20 L442.80,446.20 L443.92,446.13 L445.35,446.04 L447.04,445.94 L448.94,445.82 L451.00,445.69 L453.19,445.56 L455.44,445.43 L457.73,445.31 L460.00,445.20 L461.68,445.12 L463.36,445.03 L465.06,444.94 L466.79,444.86 L468.55,444.77 L470.38,444.68 L472.27,444.60 L474.24,444.52 L476.30,444.45 L478.48,444.39 L480.77,444.34 L483.20,444.30 L484.82,444.28 L486.51,444.27 L488.26,444.26 L490.08,444.25 L491.95,444.24 L493.86,444.24 L495.81,444.25 L497.80,444.25 L499.82,444.26 L501.85,444.27 L503.90,444.28 L505.95,444.29 L508.01,444.30 L510.06,444.32 L512.10,444.34 L514.12,444.35 L516.11,444.37 L518.08,444.38 L520.00,444.40 L521.99,444.42 L523.95,444.44 L525.89,444.46 L527.80,444.48 L529.70,444.50 L531.60,444.53 L533.48,444.55 L535.37,444.58 L537.27,444.61 L539.18,444.64 L541.10,444.67 L543.05,444.70 L545.02,444.73 L547.03,444.76 L549.08,444.79 L551.17,444.83 L553.31,444.86 L555.50,444.90 L557.24,444.93 L558.99,444.96 L560.75,444.99 L562.51,445.03 L564.29,445.06 L566.08,445.09 L567.88,445.13 L569.70,445.17 L571.54,445.21 L573.39,445.24 L575.27,445.28 L577.17,445.32 L579.09,445.36 L581.04,445.39 L583.02,445.43 L585.03,445.47 L587.06,445.51 L589.13,445.54 L591.23,445.57 L593.36,445.61 L595.54,445.64 L597.75,445.67 L600.00,445.70 L601.68,445.72 L603.36,445.74 L605.04,445.76 L606.73,445.78 L608.41,445.80 L610.10,445.82 L611.80,445.84 L613.51,445.86 L615.23,445.88 L616.96,445.89 L618.71,445.91 L620.47,445.93 L622.26,445.95 L624.06,445.96 L625.89,445.98 L627.75,446.00 L629.63,446.01 L631.54,446.03 L633.49,446.04 L635.47,446.06 L637.48,446.07 L639.53,446.09 L641.62,446.10 L643.75,446.11 L645.92,446.13 L648.15,446.14 L650.41,446.15 L652.73,446.16 L655.10,446.18 L657.52,446.19 L660.00,446.20 L661.65,446.21 L663.38,446.21 L665.16,446.22 L667.01,446.23 L668.92,446.23 L670.88,446.24 L672.90,446.25 L674.96,446.25 L677.06,446.26 L679.20,446.26 L681.38,446.27 L683.60,446.28 L685.84,446.28 L688.11,446.29 L690.40,446.29 L692.71,446.30 L695.04,446.30 L697.37,446.31 L699.72,446.31 L702.07,446.31 L704.42,446.32 L706.77,446.32 L709.12,446.33 L711.45,446.33 L713.77,446.34 L716.08,446.34 L718.36,446.34 L720.62,446.35 L722.85,446.35 L725.06,446.35 L727.23,446.36 L729.36,446.36 L731.44,446.36 L733.49,446.37 L735.48,446.37 L737.43,446.37 L739.32,446.37 L741.15,446.38 L742.91,446.38 L744.61,446.38 L746.24,446.38 L747.80,446.39 L749.28,446.39 L750.68,446.39 L751.99,446.39 L753.22,446.40 L754.36,446.40 L755.40,446.40 L756.40,446.40" fill="none" stroke="#0000ab" stroke-width="2" stroke-linejoin="round"/>
<path d="M441.80,446.50 L442.80,446.50 L446.71,446.50 L450.62,446.50 L454.52,446.50 L458.43,446.50 L462.34,446.50 L466.25,446.50 L470.15,446.50 L474.06,446.50 L477.97,446.50 L481.88,446.50 L485.78,446.50 L489.69,446.50 L493.60,446.50 L497.50,446.50 L501.41,446.50 L505.32,446.50 L509.23,446.50 L513.13,446.50 L517.04,446.50 L520.95,446.50 L524.86,446.50 L528.76,446.50 L532.67,446.50 L536.58,446.50 L540.49,446.50 L544.39,446.50 L548.30,446.50 L552.21,446.50 L556.12,446.50 L560.03,446.50 L563.93,446.50 L567.84,446.50 L571.75,446.50 L575.66,446.50 L579.56,446.50 L583.47,446.50 L587.38,446.50 L591.29,446.50 L595.19,446.50 L599.10,446.50 L603.01,446.50 L606.92,446.50 L610.82,446.50 L614.73,446.50 L618.64,446.50 L622.55,446.50 L626.45,446.50 L630.36,446.50 L634.27,446.50 L638.18,446.50 L642.08,446.50 L645.99,446.50 L649.90,446.50 L653.81,446.50 L657.71,446.50 L661.62,446.50 L665.53,446.50 L669.44,446.50 L673.34,446.50 L677.25,446.50 L681.16,446.50 L685.07,446.50 L688.97,446.50 L692.88,446.50 L696.79,446.50 L700.70,446.50 L704.60,446.50 L708.51,446.50 L712.42,446.50 L716.33,446.50 L720.23,446.50 L724.14,446.50 L728.05,446.50 L731.96,446.50 L735.86,446.50 L739.77,446.50 L743.68,446.50 L747.59,446.50 L751.49,446.50 L755.40,446.50 L756.40,446.50" fill="none" stroke="#00ab00" stroke-width="2" stroke-dasharray="3.2 1.75" stroke-linejoin="round"/>
<path d="M441.80,446.26 L442.80,446.26 L444.75,443.73 L446.71,441.29 L448.66,438.94 L450.62,436.69 L452.57,434.53 L454.52,432.46 L456.48,430.47 L458.43,428.55 L460.38,426.71 L462.34,424.94 L464.29,423.23 L466.25,421.59 L468.20,420.02 L470.15,418.53 L472.11,417.12 L474.06,415.80 L476.01,414.57 L477.97,413.43 L479.92,412.38 L481.88,411.42 L483.83,410.56 L485.78,409.79 L487.74,409.11 L489.69,408.52 L491.64,408.01 L493.60,407.60 L495.55,407.27 L497.50,407.03 L499.46,406.86 L501.41,406.79 L503.37,406.79 L505.32,406.86 L507.27,407.00 L509.23,407.22 L511.18,407.49 L513.13,407.83 L515.09,408.23 L517.04,408.67 L519.00,409.17 L520.95,409.70 L522.90,410.28 L524.86,410.90 L526.81,411.55 L528.76,412.22 L530.72,412.92 L532.67,413.65 L534.63,414.39 L536.58,415.15 L538.53,415.93 L540.49,416.72 L542.44,417.51 L544.39,418.32 L546.35,419.13 L548.30,419.94 L550.26,420.75 L552.21,421.56 L554.16,422.37 L556.12,423.16 L558.07,423.95 L560.02,424.73 L561.98,425.50 L563.93,426.25 L565.89,426.99 L567.84,427.72 L569.79,428.42 L571.75,429.11 L573.70,429.78 L575.65,430.43 L577.61,431.07 L579.56,431.68 L581.52,432.27 L583.47,432.84 L585.42,433.40 L587.38,433.93 L589.33,434.44 L591.29,434.94 L593.24,435.41 L595.19,435.87 L597.15,436.31 L599.10,436.73 L601.05,437.13 L603.01,437.51 L604.96,437.88 L606.91,438.23 L608.87,438.57 L610.82,438.89 L612.78,439.20 L614.73,439.49 L616.68,439.77 L618.64,440.04 L620.59,440.30 L622.55,440.54 L624.50,440.78 L626.45,441.00 L628.41,441.21 L630.36,441.42 L632.31,441.61 L634.27,441.80 L636.22,441.98 L638.17,442.15 L640.13,442.31 L642.08,442.47 L644.04,442.62 L645.99,442.77 L647.94,442.90 L649.90,443.04 L651.85,443.17 L653.81,443.29 L655.76,443.41 L657.71,443.52 L659.67,443.63 L661.62,443.73 L663.57,443.83 L665.53,443.93 L667.48,444.02 L669.44,444.11 L671.39,444.20 L673.34,444.28 L675.30,444.36 L677.25,444.44 L679.20,444.51 L681.16,444.58 L683.11,444.65 L685.07,444.72 L687.02,444.78 L688.97,444.84 L690.93,444.90 L692.88,444.95 L694.83,445.00 L696.79,445.05 L698.74,445.10 L700.70,445.14 L702.65,445.18 L704.60,445.22 L706.56,445.26 L708.51,445.29 L710.46,445.33 L712.42,445.36 L714.37,445.38 L716.33,445.41 L718.28,445.43 L720.23,445.45 L722.19,445.47 L724.14,445.49 L726.09,445.50 L728.05,445.51 L730.00,445.52 L731.96,445.53 L733.91,445.54 L735.86,445.54 L737.82,445.54 L739.77,445.54 L741.72,445.54 L743.68,445.53 L745.63,445.52 L747.59,445.51 L749.54,445.50 L751.49,445.49 L753.45,445.47 L755.40,445.45 L756.40,445.45" fill="none" stroke="#666666" stroke-width="2" stroke-dasharray="2.95 2.1 5.95 2.05" stroke-linejoin="round"/>
<path d="M441.80,446.33 L442.80,446.33 L444.75,437.79 L446.71,428.40 L448.66,418.44 L450.62,408.20 L452.57,397.97 L454.52,388.04 L456.48,378.56 L458.43,369.52 L460.38,360.91 L462.34,352.70 L464.29,344.85 L466.25,337.34 L468.20,330.15 L470.15,323.29 L472.11,316.77 L474.06,310.62 L476.01,304.85 L477.97,299.45 L479.92,294.45 L481.88,289.84 L483.83,285.63 L485.78,281.82 L487.74,278.42 L489.69,275.43 L491.64,272.84 L493.60,270.64 L495.55,268.84 L497.50,267.43 L499.46,266.38 L501.41,265.70 L503.37,265.37 L505.32,265.38 L507.27,265.72 L509.23,266.37 L511.18,267.32 L513.13,268.55 L515.09,270.05 L517.04,271.80 L519.00,273.78 L520.95,275.99 L522.90,278.39 L524.86,280.97 L526.81,283.71 L528.76,286.59 L530.72,289.59 L532.67,292.69 L534.63,295.86 L536.58,299.08 L538.53,302.34 L540.49,305.62 L542.44,309.03 L544.39,312.71 L546.35,316.80 L548.30,321.36 L550.26,325.74 L552.21,329.37 L554.16,332.51 L556.12,335.53 L558.07,338.62 L560.02,341.88 L561.98,345.41 L563.93,349.32 L565.89,353.67 L567.84,357.97 L569.79,361.39 L571.75,363.91 L573.70,366.27 L575.65,369.15 L577.61,372.18 L579.56,375.08 L581.52,377.80 L583.47,380.34 L585.42,382.67 L587.38,384.89 L589.33,387.05 L591.29,389.15 L593.24,391.20 L595.19,393.19 L597.15,395.13 L599.10,397.00 L601.05,398.82 L603.01,400.58 L604.96,402.29 L606.91,403.95 L608.87,405.55 L610.82,407.10 L612.78,408.60 L614.73,410.05 L616.68,411.44 L618.64,412.80 L620.59,414.10 L622.55,415.36 L624.50,416.57 L626.45,417.74 L628.41,418.87 L630.36,419.95 L632.31,420.99 L634.27,421.98 L636.22,422.94 L638.17,423.85 L640.13,424.73 L642.08,425.57 L644.04,426.37 L645.99,427.14 L647.94,427.88 L649.90,428.59 L651.85,429.27 L653.81,429.92 L655.76,430.54 L657.71,431.14 L659.67,431.72 L661.62,432.27 L663.57,432.80 L665.53,433.30 L667.48,433.79 L669.44,434.26 L671.39,434.71 L673.34,435.14 L675.30,435.55 L677.25,435.95 L679.20,436.33 L681.16,436.69 L683.11,437.04 L685.07,437.37 L687.02,437.69 L688.97,438.00 L690.93,438.30 L692.88,438.58 L694.83,438.85 L696.79,439.11 L698.74,439.35 L700.70,439.59 L702.65,439.82 L704.60,440.04 L706.56,440.24 L708.51,440.44 L710.46,440.63 L712.42,440.81 L714.37,440.99 L716.33,441.15 L718.28,441.31 L720.23,441.46 L722.19,441.61 L724.14,441.75 L726.09,441.88 L728.05,442.01 L730.00,442.13 L731.96,442.25 L733.91,442.37 L735.86,442.48 L737.82,442.59 L739.77,442.69 L741.72,442.79 L743.68,442.89 L745.63,442.99 L747.59,443.08 L749.54,443.17 L751.49,443.27 L753.45,443.36 L755.40,443.45 L756.40,443.45" fill="none" stroke="#ab0000" stroke-width="2" stroke-dasharray="6 2" stroke-linejoin="round"/>
<rect x="436.4" y="255.5" width="325.6" height="201" fill="none" stroke="#5c5c5c" stroke-width="1"/>
<path d="M442.80,456.5 v-4.0 M442.80,255.5 v4.0 M458.43,456.5 v-2.2 M458.43,255.5 v2.2 M474.06,456.5 v-2.2 M474.06,255.5 v2.2 M489.69,456.5 v-2.2 M489.69,255.5 v2.2 M505.32,456.5 v-2.2 M505.32,255.5 v2.2 M520.95,456.5 v-4.0 M520.95,255.5 v4.0 M536.58,456.5 v-2.2 M536.58,255.5 v2.2 M552.21,456.5 v-2.2 M552.21,255.5 v2.2 M567.84,456.5 v-2.2 M567.84,255.5 v2.2 M583.47,456.5 v-2.2 M583.47,255.5 v2.2 M599.10,456.5 v-4.0 M599.10,255.5 v4.0 M614.73,456.5 v-2.2 M614.73,255.5 v2.2 M630.36,456.5 v-2.2 M630.36,255.5 v2.2 M645.99,456.5 v-2.2 M645.99,255.5 v2.2 M661.62,456.5 v-2.2 M661.62,255.5 v2.2 M677.25,456.5 v-4.0 M677.25,255.5 v4.0 M692.88,456.5 v-2.2 M692.88,255.5 v2.2 M708.51,456.5 v-2.2 M708.51,255.5 v2.2 M724.14,456.5 v-2.2 M724.14,255.5 v2.2 M739.77,456.5 v-2.2 M739.77,255.5 v2.2 M755.40,456.5 v-4.0 M755.40,255.5 v4.0 M436.4,456.37 h2.4 M762.0,456.37 h-2.4 M436.4,446.60 h4.2 M762.0,446.60 h-4.2 M436.4,436.83 h2.4 M762.0,436.83 h-2.4 M436.4,427.06 h2.4 M762.0,427.06 h-2.4 M436.4,417.29 h2.4 M762.0,417.29 h-2.4 M436.4,407.52 h4.2 M762.0,407.52 h-4.2 M436.4,397.75 h2.4 M762.0,397.75 h-2.4 M436.4,387.98 h2.4 M762.0,387.98 h-2.4 M436.4,378.21 h2.4 M762.0,378.21 h-2.4 M436.4,368.44 h4.2 M762.0,368.44 h-4.2 M436.4,358.67 h2.4 M762.0,358.67 h-2.4 M436.4,348.90 h2.4 M762.0,348.90 h-2.4 M436.4,339.13 h2.4 M762.0,339.13 h-2.4 M436.4,329.36 h4.2 M762.0,329.36 h-4.2 M436.4,319.59 h2.4 M762.0,319.59 h-2.4 M436.4,309.82 h2.4 M762.0,309.82 h-2.4 M436.4,300.05 h2.4 M762.0,300.05 h-2.4 M436.4,290.28 h4.2 M762.0,290.28 h-4.2 M436.4,280.51 h2.4 M762.0,280.51 h-2.4 M436.4,270.74 h2.4 M762.0,270.74 h-2.4 M436.4,260.97 h2.4 M762.0,260.97 h-2.4" stroke="#5c5c5c" stroke-width="1" fill="none"/>
<g class="tk">
<text x="442.80" y="473.20" text-anchor="middle">0</text>
<text x="520.95" y="473.20" text-anchor="middle">1</text>
<text x="599.10" y="473.20" text-anchor="middle">2</text>
<text x="677.25" y="473.20" text-anchor="middle">3</text>
<text x="755.40" y="473.20" text-anchor="middle">4</text>
<text x="433.40" y="451.80" text-anchor="end">0.0</text>
<text x="433.40" y="412.72" text-anchor="end">0.2</text>
<text x="433.40" y="373.64" text-anchor="end">0.4</text>
<text x="433.40" y="334.56" text-anchor="end">0.6</text>
<text x="433.40" y="295.48" text-anchor="end">0.8</text>
</g>
<text class="ax" x="599.20" y="497.20" text-anchor="middle">p (GeV)</text>
<g transform="translate(400.90,409.90) rotate(-90)"><text class="ax" x="0" y="0" word-spacing="0.1"><tspan font-style="italic">ψ</tspan><tspan dx="-0.8">(p) (GeV</tspan></text><path d="M77.2,-9.1 H84.0" stroke="#000" stroke-width="1.0" fill="none"/><text class="sup" x="84.6" y="-5.4">3</text><path d="M91.3,-3.6 L98.5,-14.0" stroke="#000" stroke-width="0.95" fill="none"/><text class="sup" x="96.2" y="-5.4">2</text><text class="ax" x="102.3" y="0">)</text></g>
<text class="ti" x="575.10" y="279.80">J<tspan font-size="15.2" dy="-8.8" dx="-0.2">P</tspan><tspan dy="10.6" dx="1.2">=</tspan><tspan dx="0.2" dy="-1.8">1</tspan><tspan font-size="15.8" dy="-6.9" dx="1.1">+</tspan></text>
<text class="ti" style="font-size:21px" x="716.10" y="279.80" text-anchor="middle">(d)</text>
<path d="M589.7,309.0 h39.30" stroke="#0000ab" stroke-width="2" fill="none"/>
<text class="lg" x="635.20" y="312.10">S<tspan font-size="19.5" dx="0.3" dy="2.2">−</tspan><tspan dx="0.3" dy="-2.2">wave</tspan></text>
<path d="M589.7,329.3 h38.00" stroke="#00ab00" stroke-width="2" stroke-dasharray="3.2 1.75" fill="none"/>
<text class="lg" x="635.20" y="332.60">D<tspan font-size="19.5" dx="0.3" dy="2.2">−</tspan><tspan dx="0.3" dy="-2.2">wave</tspan></text>
<path d="M589.7,349.6 h37.10" stroke="#666666" stroke-width="2" stroke-dasharray="2.95 2.1 5.95 2.05" fill="none"/>
<text class="lg" x="635.20" y="353.10">P<tspan font-size="19.5" dx="0.3" dy="2.2">−</tspan><tspan dx="0.3" dy="-2.2">wave (singlet)</tspan></text>
<path d="M589.7,371.2 h38.00" stroke="#ab0000" stroke-width="2" stroke-dasharray="6 2" fill="none"/>
<text class="lg" x="635.20" y="374.50">P<tspan font-size="19.5" dx="0.3" dy="2.2">−</tspan><tspan dx="0.3" dy="-2.2">wave (triplet)</tspan></text>
</g>
</svg>
</body></html>
